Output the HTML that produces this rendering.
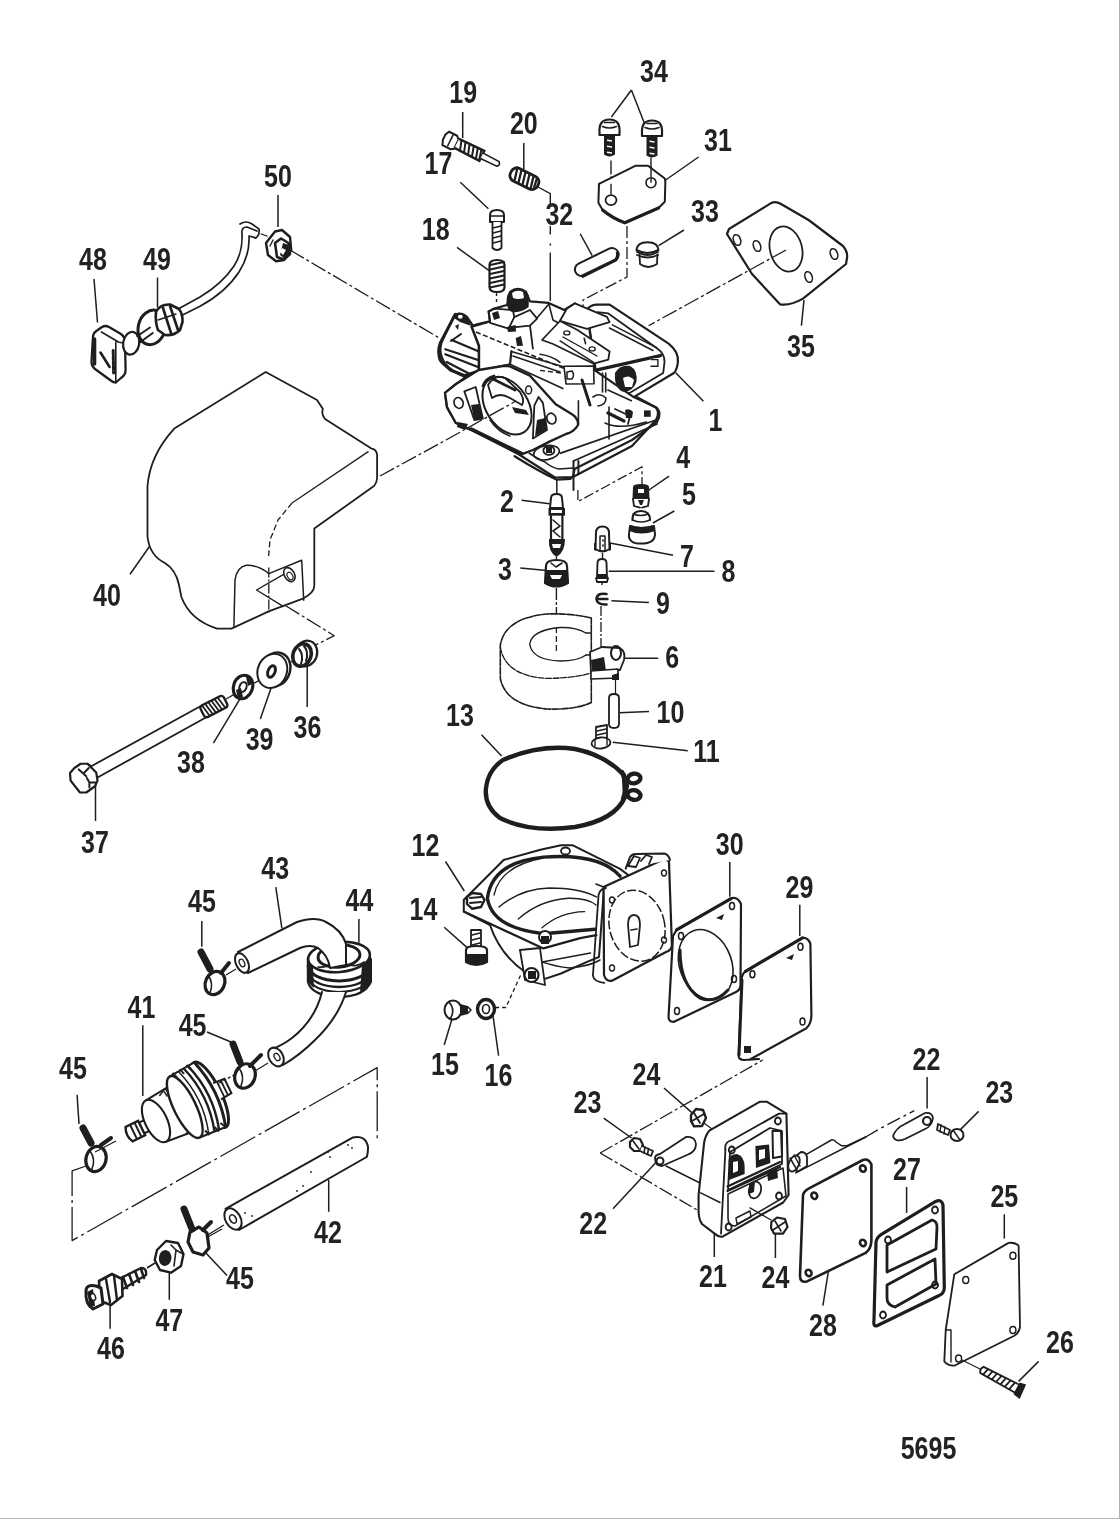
<!DOCTYPE html>
<html><head><meta charset="utf-8"><style>
html,body{margin:0;padding:0;background:#fff;}
svg{display:block;filter:grayscale(1);}
text{font-family:"Liberation Sans",sans-serif;font-weight:bold;fill:#222;}
</style></head><body>
<svg width="1120" height="1519" viewBox="0 0 1120 1519">
<rect x="0" y="0" width="1120" height="1519" fill="#fff"/>
<rect x="1119" y="0" width="1" height="1519" fill="#b0b0b0"/>
<rect x="0" y="1518" width="1120" height="1" fill="#b8b8b8"/>
<line x1="462.7" y1="112" x2="462.7" y2="138" stroke="#1e1e1e" stroke-width="1.5"/>
<line x1="523.8" y1="143" x2="523.8" y2="169.5" stroke="#1e1e1e" stroke-width="1.5"/>
<line x1="460.3" y1="182.3" x2="488.4" y2="208.8" stroke="#1e1e1e" stroke-width="1.5"/>
<line x1="457" y1="247.4" x2="489.2" y2="270.7" stroke="#1e1e1e" stroke-width="1.5"/>
<line x1="278" y1="195" x2="278" y2="227" stroke="#1e1e1e" stroke-width="1.5"/>
<line x1="94" y1="279" x2="97.5" y2="322.5" stroke="#1e1e1e" stroke-width="1.5"/>
<line x1="157.5" y1="277.5" x2="157.5" y2="307.5" stroke="#1e1e1e" stroke-width="1.5"/>
<line x1="631.4" y1="90" x2="611.4" y2="117" stroke="#1e1e1e" stroke-width="1.5"/>
<line x1="631.4" y1="90" x2="644.3" y2="122.9" stroke="#1e1e1e" stroke-width="1.5"/>
<line x1="698.6" y1="157" x2="665.7" y2="180" stroke="#1e1e1e" stroke-width="1.5"/>
<line x1="684" y1="230" x2="658.6" y2="245.7" stroke="#1e1e1e" stroke-width="1.5"/>
<line x1="804" y1="300" x2="801.4" y2="325.7" stroke="#1e1e1e" stroke-width="1.5"/>
<line x1="703.4" y1="401.25" x2="675.7" y2="372.7" stroke="#1e1e1e" stroke-width="1.5"/>
<line x1="669" y1="476.2" x2="647.5" y2="491" stroke="#1e1e1e" stroke-width="1.5"/>
<line x1="674.3" y1="511" x2="652.9" y2="523" stroke="#1e1e1e" stroke-width="1.5"/>
<line x1="521.6" y1="500.3" x2="549.7" y2="503.8" stroke="#1e1e1e" stroke-width="1.5"/>
<line x1="673" y1="555.2" x2="610" y2="543" stroke="#1e1e1e" stroke-width="1.5"/>
<line x1="520.3" y1="568" x2="549.7" y2="570.7" stroke="#1e1e1e" stroke-width="1.5"/>
<line x1="714.5" y1="571.3" x2="608.7" y2="571.3" stroke="#1e1e1e" stroke-width="1.5"/>
<line x1="648.9" y1="602.6" x2="611.4" y2="600.7" stroke="#1e1e1e" stroke-width="1.5"/>
<line x1="658.2" y1="658.3" x2="620.7" y2="658.3" stroke="#1e1e1e" stroke-width="1.5"/>
<line x1="649" y1="711.4" x2="619.5" y2="712.7" stroke="#1e1e1e" stroke-width="1.5"/>
<line x1="687.8" y1="750.7" x2="612.8" y2="742.2" stroke="#1e1e1e" stroke-width="1.5"/>
<line x1="481.5" y1="734.7" x2="501.6" y2="756" stroke="#1e1e1e" stroke-width="1.5"/>
<line x1="130" y1="574.3" x2="150" y2="545.7" stroke="#1e1e1e" stroke-width="1.5"/>
<line x1="95.5" y1="780.7" x2="95.5" y2="821" stroke="#1e1e1e" stroke-width="1.5"/>
<line x1="213.4" y1="743.2" x2="241.5" y2="696.3" stroke="#1e1e1e" stroke-width="1.5"/>
<line x1="260.3" y1="719" x2="271" y2="688.3" stroke="#1e1e1e" stroke-width="1.5"/>
<line x1="307.2" y1="707" x2="307.2" y2="664.2" stroke="#1e1e1e" stroke-width="1.5"/>
<line x1="445.5" y1="861.5" x2="464.3" y2="891" stroke="#1e1e1e" stroke-width="1.5"/>
<line x1="444.2" y1="927.2" x2="468.3" y2="948.6" stroke="#1e1e1e" stroke-width="1.5"/>
<line x1="452.2" y1="1018.2" x2="444.2" y2="1045" stroke="#1e1e1e" stroke-width="1.5"/>
<line x1="492.4" y1="1011.5" x2="498.6" y2="1055.7" stroke="#1e1e1e" stroke-width="1.5"/>
<line x1="729.8" y1="862" x2="729.8" y2="896.8" stroke="#1e1e1e" stroke-width="1.5"/>
<line x1="799.8" y1="904.8" x2="799.8" y2="936" stroke="#1e1e1e" stroke-width="1.5"/>
<line x1="275.8" y1="887.2" x2="281.9" y2="928.3" stroke="#1e1e1e" stroke-width="1.5"/>
<line x1="201.8" y1="921" x2="201.8" y2="946.8" stroke="#1e1e1e" stroke-width="1.5"/>
<line x1="358.9" y1="919" x2="358.9" y2="942.7" stroke="#1e1e1e" stroke-width="1.5"/>
<line x1="207" y1="1032" x2="231.6" y2="1042.3" stroke="#1e1e1e" stroke-width="1.5"/>
<line x1="142.8" y1="1025.3" x2="142.8" y2="1096" stroke="#1e1e1e" stroke-width="1.5"/>
<line x1="77.1" y1="1094.9" x2="79" y2="1124" stroke="#1e1e1e" stroke-width="1.5"/>
<line x1="328.7" y1="1180" x2="328.7" y2="1211.8" stroke="#1e1e1e" stroke-width="1.5"/>
<line x1="227" y1="1275.5" x2="205.7" y2="1252.8" stroke="#1e1e1e" stroke-width="1.5"/>
<line x1="169.3" y1="1269.5" x2="169.3" y2="1299.8" stroke="#1e1e1e" stroke-width="1.5"/>
<line x1="110.1" y1="1302.9" x2="110.1" y2="1328.7" stroke="#1e1e1e" stroke-width="1.5"/>
<line x1="664" y1="1088" x2="693" y2="1113.6" stroke="#1e1e1e" stroke-width="1.5"/>
<line x1="603.7" y1="1118.2" x2="631.5" y2="1138" stroke="#1e1e1e" stroke-width="1.5"/>
<line x1="613" y1="1208.8" x2="659.4" y2="1158.8" stroke="#1e1e1e" stroke-width="1.5"/>
<line x1="714.3" y1="1230.7" x2="714.3" y2="1257" stroke="#1e1e1e" stroke-width="1.5"/>
<line x1="775.4" y1="1234" x2="775.4" y2="1258" stroke="#1e1e1e" stroke-width="1.5"/>
<line x1="927.1" y1="1077" x2="927.1" y2="1108.6" stroke="#1e1e1e" stroke-width="1.5"/>
<line x1="978.6" y1="1111.4" x2="958.6" y2="1131.4" stroke="#1e1e1e" stroke-width="1.5"/>
<line x1="906.6" y1="1187" x2="906.6" y2="1212.9" stroke="#1e1e1e" stroke-width="1.5"/>
<line x1="1004.3" y1="1214.3" x2="1004.3" y2="1238.6" stroke="#1e1e1e" stroke-width="1.5"/>
<line x1="822.9" y1="1305.7" x2="828.6" y2="1270" stroke="#1e1e1e" stroke-width="1.5"/>
<line x1="1038.6" y1="1361.4" x2="1018.6" y2="1381.4" stroke="#1e1e1e" stroke-width="1.5"/>
<path d="M290,250 L441,339" fill="none" stroke="#1e1e1e" stroke-width="1.3" stroke-linejoin="round" stroke-dasharray="16 3 3 3"/>
<path d="M93,337 Q93,333 97,330.5 L102,327 Q105.5,325 109,327 L121,334 Q125,337 125,342 L125.6,370 Q125.6,375 121,378 L117,381.5 Q114.8,383.5 111.5,381 L95,369 Q91.2,366 91.5,361 Z" fill="#fff" stroke="#1e1e1e" stroke-width="2.3" stroke-linejoin="round" stroke-linecap="round" />
<path d="M101.4,332 L118.9,342.2 L125,343.3 M115.8,342.2 L115.8,383" fill="none" stroke="#1e1e1e" stroke-width="1.6" stroke-linejoin="round" stroke-linecap="round" />
<path d="M94.5,339 L94.5,364" fill="none" stroke="#1e1e1e" stroke-width="3.6" stroke-linejoin="round" stroke-linecap="round" />
<path d="M100.5,352.5 L109.6,367" fill="none" stroke="#1e1e1e" stroke-width="2.6" stroke-linejoin="round" stroke-linecap="round" />
<path d="M113.2,350.4 L113.6,373" fill="none" stroke="#1e1e1e" stroke-width="3" stroke-linejoin="round" stroke-linecap="round" stroke-dasharray="4 1.2"/>
<ellipse cx="131.2" cy="343.3" rx="8" ry="11.5" transform="rotate(10 131.2 343.3)" fill="#fff" stroke="#1e1e1e" stroke-width="2.2"/>
<path d="M137.4,336 L151,327 M139,343 L152.8,333" fill="none" stroke="#1e1e1e" stroke-width="2" stroke-linejoin="round" stroke-linecap="round" />
<ellipse cx="151.8" cy="327.4" rx="13.5" ry="17.5" transform="rotate(15 151.8 327.4)" fill="#fff" stroke="#1e1e1e" stroke-width="3"/>
<path d="M139,343 L152.8,333" fill="none" stroke="#1e1e1e" stroke-width="2" stroke-linejoin="round" stroke-linecap="round" />
<path d="M137.4,336 L150,327.5" fill="none" stroke="#1e1e1e" stroke-width="2" stroke-linejoin="round" stroke-linecap="round" />
<path d="M156,312 Q160,304 170,304.5 L179,309 Q183,314 182.5,322 L180,330 Q174,336 165,335 L158,330 Q155,322 156,312 Z" fill="#fff" stroke="#1e1e1e" stroke-width="2.6" stroke-linejoin="round" stroke-linecap="round" />
<path d="M163,308 L171,333 M170,306 L178,330" fill="none" stroke="#1e1e1e" stroke-width="2.6" stroke-linejoin="round" stroke-linecap="round" />
<path d="M158,320 L176,314" fill="none" stroke="#1e1e1e" stroke-width="1.4" stroke-linejoin="round" stroke-linecap="round" />
<path d="M179.5,308.3 L200,297 Q222,284 234,266 Q243,252 242,234 Q241,227 247,227 L257,231" fill="none" stroke="#1e1e1e" stroke-width="1.7" stroke-linejoin="round" stroke-linecap="round" />
<path d="M181.5,315.5 L200,306.3 Q226,292 239,272 Q250,255 249,236 L256,238" fill="none" stroke="#1e1e1e" stroke-width="1.7" stroke-linejoin="round" stroke-linecap="round" />
<path d="M240,224 Q246,220 252,224 L259,229 Q260,236 255,238" fill="none" stroke="#1e1e1e" stroke-width="1.7" stroke-linejoin="round" stroke-linecap="round" />
<path d="M266,243 L275,231.5 L282,230 L290,237 L291.25,250 L284,260 L276,261.25 L268,255 Z" fill="#fff" stroke="#1e1e1e" stroke-width="2.4" stroke-linejoin="round" stroke-linecap="round" />
<path d="M275,243 L281,238.5 L288.5,243 L290,254 L284,259.5 L277,257 Z" fill="#fff" stroke="#1e1e1e" stroke-width="2.6" stroke-linejoin="round" stroke-linecap="round" />
<path d="M283,243 L289,245 L291,254 L285,259 L280,255 Z" fill="#1e1e1e" stroke="none"/>
<path d="M282,248 L286,250 L283,255 L280,252 Z" fill="#fff" stroke="none"/>
<path d="M270,246 L273,240" fill="none" stroke="#1e1e1e" stroke-width="1.4" stroke-linejoin="round" stroke-linecap="round" />
<path d="M260.6,233.75 L267.5,236.25" fill="none" stroke="#1e1e1e" stroke-width="1.3" stroke-linejoin="round" />
<g transform="translate(446,138) rotate(26.5)"><path d="M0,-7 L9,-7 L12,-4 L12,6 L9,8 L0,8 L-2,3 L-2,-3 Z" fill="#fff" stroke="#1e1e1e" stroke-width="2"/><path d="M5,-6 L5,7" stroke="#1e1e1e" stroke-width="1.6"/><path d="M12,-5 L40,-5.5 L40,5.5 L12,5" fill="#fff" stroke="#1e1e1e" stroke-width="2.4"/><path d="M15,-4.5 L18,4.5 M19.5,-4.5 L22.5,4.5 M24,-4.5 L27,4.5 M28.5,-5 L31.5,5 M33,-5 L36,5 M37,-5 L39.5,5" stroke="#1e1e1e" stroke-width="2"/><path d="M40,-3 L58,-2.5 Q61,0 58,2.5 L40,3" fill="#fff" stroke="#1e1e1e" stroke-width="1.6"/></g>
<g transform="translate(511,172) rotate(26.5)"><rect x="0" y="-7" width="30" height="14" rx="6" fill="#fff" stroke="#1e1e1e" stroke-width="2.8"/><path d="M4,-6 L7,6 M8.5,-6.5 L11.5,6.5 M13,-6.5 L16,6.5 M17.5,-6.5 L20.5,6.5 M22,-6.5 L25,6.5 M26,-6 L28,6" stroke="#1e1e1e" stroke-width="2.3"/></g>
<path d="M538,187 L550.3,193.6 L550.3,206" fill="none" stroke="#1e1e1e" stroke-width="1.4" stroke-linejoin="round" />
<path d="M550.3,226 L550.3,234.6" fill="none" stroke="#1e1e1e" stroke-width="1.4" stroke-linejoin="round" />
<path d="M550.3,243.5 L550.3,245.5" fill="none" stroke="#1e1e1e" stroke-width="1.6" stroke-linejoin="round" />
<path d="M550.3,252.5 L550.3,301" fill="none" stroke="#1e1e1e" stroke-width="1.4" stroke-linejoin="round" />
<path d="M490,215 Q490,210 497,210 Q504,210 504,215 L504,222 L490,222 Z" fill="#fff" stroke="#1e1e1e" stroke-width="2" stroke-linejoin="round" stroke-linecap="round" />
<path d="M491,216 L503,216" fill="none" stroke="#1e1e1e" stroke-width="1.5" stroke-linejoin="round" stroke-linecap="round" />
<path d="M492.5,222 L492.5,248 Q497,252 501.5,248 L501.5,222" fill="#fff" stroke="#1e1e1e" stroke-width="1.8" stroke-linejoin="round" stroke-linecap="round" />
<path d="M493,228 L501,226 M493,233 L501,231 M493,238 L501,236 M493,243 L501,241" fill="none" stroke="#1e1e1e" stroke-width="1.4" stroke-linejoin="round" stroke-linecap="round" />
<path d="M489.5,265 Q489.5,260 497,260 Q504.5,260 504.5,265 L504.5,287 Q504.5,292 497,292 Q489.5,292 489.5,287 Z" fill="#fff" stroke="#1e1e1e" stroke-width="2.2" stroke-linejoin="round" stroke-linecap="round" />
<path d="M490,265 L504,262 M490,269.5 L504,266.5 M490,274 L504,271 M490,278.5 L504,275.5 M490,283 L504,280 M490,287.5 L504,284.5" fill="none" stroke="#1e1e1e" stroke-width="2.2" stroke-linejoin="round" stroke-linecap="round" />
<path d="M496.5,293 L496.5,304" fill="none" stroke="#1e1e1e" stroke-width="1.4" stroke-linejoin="round" stroke-dasharray="3 3"/>
<path d="M599.5,132.5 Q598.5,119.5 609.5,119.5 Q620.5,119.5 619.5,132.5 L619.5,135.0 L599.5,135.0 Z" fill="#fff" stroke="#1e1e1e" stroke-width="2.2" stroke-linejoin="round" stroke-linecap="round" />
<path d="M602.5,126.5 Q609.5,129.5 616.5,126.5 M604.5,122.5 L614.5,122.5" fill="none" stroke="#1e1e1e" stroke-width="1.6" stroke-linejoin="round" stroke-linecap="round" />
<path d="M604.0,135.0 L615.0,135.0 L615.0,154.5 Q609.5,158.5 604.0,154.5 Z" fill="#1e1e1e" stroke="none"/>
<path d="M607.0,139.5 L612.0,140.3 L612.0,141.7 L607.0,140.9 Z" fill="#fff" stroke="none"/>
<path d="M607.0,145.5 L612.0,146.3 L612.0,147.7 L607.0,146.9 Z" fill="#fff" stroke="none"/>
<path d="M607.0,151.5 L612.0,152.3 L612.0,153.7 L607.0,152.9 Z" fill="#fff" stroke="none"/>
<path d="M642,133.5 Q641,120.5 652,120.5 Q663,120.5 662,133.5 L662,136.0 L642,136.0 Z" fill="#fff" stroke="#1e1e1e" stroke-width="2.2" stroke-linejoin="round" stroke-linecap="round" />
<path d="M645,127.5 Q652,130.5 659,127.5 M647,123.5 L657,123.5" fill="none" stroke="#1e1e1e" stroke-width="1.6" stroke-linejoin="round" stroke-linecap="round" />
<path d="M646.5,136.0 L657.5,136.0 L657.5,155.5 Q652,159.5 646.5,155.5 Z" fill="#1e1e1e" stroke="none"/>
<path d="M649.5,140.5 L654.5,141.3 L654.5,142.7 L649.5,141.9 Z" fill="#fff" stroke="none"/>
<path d="M649.5,146.5 L654.5,147.3 L654.5,148.7 L649.5,147.9 Z" fill="#fff" stroke="none"/>
<path d="M649.5,152.5 L654.5,153.3 L654.5,154.7 L649.5,153.9 Z" fill="#fff" stroke="none"/>
<path d="M611,160.6 L611,194.3" fill="none" stroke="#1e1e1e" stroke-width="1.4" stroke-linejoin="round" stroke-dasharray="14 2 3 2"/>
<path d="M651,157.4 L651,182.7" fill="none" stroke="#1e1e1e" stroke-width="1.4" stroke-linejoin="round" />
<path d="M599,183.8 L635.3,165.8 L648,165.8 L664.8,178.5 Q665.5,181 665.3,183.8 L664.8,201.7 L658.5,208 L624.8,222.8 Q612,218 602.6,210 L598.4,202.7 Z" fill="#fff" stroke="#1e1e1e" stroke-width="2" stroke-linejoin="round" stroke-linecap="round" />
<path d="M602.6,210 Q612,218 624.8,222.8 L658.5,208" fill="none" stroke="#1e1e1e" stroke-width="3.2" stroke-linejoin="round" stroke-linecap="round" />
<ellipse cx="611" cy="200.1" rx="5.5" ry="5" transform="rotate(0 611 200.1)" fill="none" stroke="#1e1e1e" stroke-width="1.8"/>
<ellipse cx="651" cy="182.7" rx="5" ry="5" transform="rotate(0 651 182.7)" fill="none" stroke="#1e1e1e" stroke-width="1.6"/>
<path d="M611,183.8 L611,194.3" fill="none" stroke="#1e1e1e" stroke-width="1.4" stroke-linejoin="round" />
<path d="M651,166 L651,182.7" fill="none" stroke="#1e1e1e" stroke-width="1.4" stroke-linejoin="round" />
<path d="M627,226 L627,277 L583,300 L583,318" fill="none" stroke="#1e1e1e" stroke-width="1.3" stroke-linejoin="round" stroke-dasharray="12 3 3 3"/>
<g transform="translate(596.7,262) rotate(-26)"><rect x="-23.5" y="-6.5" width="47" height="13" rx="6.5" fill="#fff" stroke="#1e1e1e" stroke-width="2"/><path d="M-20,6.5 L18,6.5 Q22,5 23,0" fill="none" stroke="#1e1e1e" stroke-width="3.4"/></g>
<line x1="580.2" y1="233.75" x2="592.2" y2="255.6" stroke="#1e1e1e" stroke-width="1.5"/>
<path d="M636.4,250 Q637,242.2 647.5,242.2 Q658,242.2 658.5,250 Q647.5,256 636.4,250 Z" fill="#fff" stroke="#1e1e1e" stroke-width="2" stroke-linejoin="round" stroke-linecap="round" />
<path d="M639.5,254.4 L640,264 Q648,270 657,264 L657.4,254.4" fill="#fff" stroke="#1e1e1e" stroke-width="1.8" stroke-linejoin="round" stroke-linecap="round" />
<path d="M637,252 Q647.5,258 658,252 M637,255 Q647.5,260 658,255" fill="none" stroke="#1e1e1e" stroke-width="1.8" stroke-linejoin="round" stroke-linecap="round" />
<path d="M727,234 L729,229 L771.4,202.9 Q776,201 781,204 L808.6,220 L843,246 Q848,252 847,258 L846,264 L803,298.6 Q790,306 780,304.3 L752,274 Z" fill="#fff" stroke="#1e1e1e" stroke-width="2.2" stroke-linejoin="round" stroke-linecap="round" />
<ellipse cx="786" cy="249" rx="16" ry="23" transform="rotate(-15 786 249)" fill="none" stroke="#1e1e1e" stroke-width="1.8"/>
<ellipse cx="737" cy="240" rx="3.5" ry="5.5" transform="rotate(-20 737 240)" fill="none" stroke="#1e1e1e" stroke-width="1.6"/>
<ellipse cx="757" cy="246" rx="3.5" ry="5.5" transform="rotate(-20 757 246)" fill="none" stroke="#1e1e1e" stroke-width="1.6"/>
<ellipse cx="834" cy="254" rx="3.5" ry="5.5" transform="rotate(-20 834 254)" fill="none" stroke="#1e1e1e" stroke-width="1.6"/>
<ellipse cx="808.6" cy="277" rx="3.5" ry="5.5" transform="rotate(-20 808.6 277)" fill="none" stroke="#1e1e1e" stroke-width="1.6"/>
<path d="M786,250 L648.6,325.7" fill="none" stroke="#1e1e1e" stroke-width="1.3" stroke-linejoin="round" stroke-dasharray="16 3 3 3"/>
<path d="M380,476 L446,440" fill="none" stroke="#1e1e1e" stroke-width="1.3" stroke-linejoin="round" stroke-dasharray="16 3 3 3"/>
<path d="M586.9,310.1 Q590,305 596.2,304.7 L609.6,304.7 L668.6,343.6 Q679,352 677.9,362 Q677,370 673.9,373 L633.7,397.1 L600,400 Z" fill="#fff" stroke="#1e1e1e" stroke-width="2.2" stroke-linejoin="round" stroke-linecap="round" />
<path d="M597.6,312.1 L608.3,313.4 L657.9,348.9 Q665,354 664.5,362 L663.2,373 L627,394.5" fill="none" stroke="#1e1e1e" stroke-width="1.8" stroke-linejoin="round" stroke-linecap="round" />
<path d="M594.9,370.4 L660.5,355.6" fill="none" stroke="#1e1e1e" stroke-width="3.4" stroke-linejoin="round" stroke-linecap="round" />
<path d="M612.3,324.8 L656.5,347.6 M609.5,328 L653,350.5" fill="none" stroke="#1e1e1e" stroke-width="1.5" stroke-linejoin="round" stroke-linecap="round" />
<path d="M650,359 L658,358 L658,366 L651,366 Z" fill="#fff" stroke="none"/>
<path d="M651,359.6 L657.9,359.6 L657.9,366.3 L651,366.3" fill="none" stroke="#1e1e1e" stroke-width="1.4" stroke-linejoin="round" stroke-linecap="round" />
<path d="M445.7,364.3 Q438,354 441.4,342.9 L451.4,321.4 L454.3,315.7 Q460,311 467.1,317.1 L472.9,325.7 L477.1,324.3 L490,321.4 L488.6,311.4 L494.3,308.6 L507,305 L510,292 Q518,286 526,292 L530,301.4 L548.6,302.9 L564.3,310 L574.8,303.4 L586.9,310.1 L594.9,370.4 L633.7,397.1 L656,407.5 Q660,413 656,420 L632,446 L572.9,477 L555,477.5 L518.6,454.3 L471.4,430 Q455,425 447,407 L445,392.9 L455.7,384.3 L465.7,377.1 Q452,372 445.7,364.3 Z" fill="#fff" stroke="#1e1e1e" stroke-width="2.2" stroke-linejoin="round" stroke-linecap="round" />
<path d="M455.3,314.3 L440.3,342.9 Q438,350 438.9,353.6 Q439,360 442.4,362.9 L450.3,370 L464.6,375.7 L477.4,371.4" fill="none" stroke="#1e1e1e" stroke-width="3.0" stroke-linejoin="round" stroke-linecap="round" />
<path d="M471.7,327.1 L478.9,345.7 L478.9,370.7" fill="none" stroke="#1e1e1e" stroke-width="2.6" stroke-linejoin="round" stroke-linecap="round" />
<path d="M451.7,340 L478.9,351.4 M445.3,349.3 L478.1,360 M445.3,354.3 L478,367 M446.7,362 L470.3,374.3" fill="none" stroke="#1e1e1e" stroke-width="2.2" stroke-linejoin="round" stroke-linecap="round" />
<path d="M451,341 L461,334" fill="none" stroke="#1e1e1e" stroke-width="2" stroke-linejoin="round" stroke-linecap="round" />
<path d="M454,318 Q455,312 461,313 Q467,314 468,319 L471.5,326 L460,322 Z" fill="#1e1e1e" stroke="none"/>
<ellipse cx="460.3" cy="316.8" rx="2.4" ry="2" transform="rotate(0 460.3 316.8)" fill="#fff" stroke="#1e1e1e" stroke-width="0"/>
<path d="M455,326 L459,324 L458,330 Z" fill="#1e1e1e" stroke="none"/>
<path d="M471.7,326.5 L487.4,322.1" fill="none" stroke="#1e1e1e" stroke-width="2.4" stroke-linejoin="round" stroke-linecap="round" />
<path d="M511.4,351.4 L510,364.3 L478.6,371.4" fill="none" stroke="#1e1e1e" stroke-width="2.2" stroke-linejoin="round" stroke-linecap="round" />
<path d="M476,332 L564.3,368.6" fill="none" stroke="#1e1e1e" stroke-width="1.6" stroke-linejoin="round" stroke-dasharray="5 2.5"/>
<path d="M488.6,311.4 L494.3,308.6 L512.9,310 L514.3,317.1 L508.6,328.6 L490,322.9 Z" fill="none" stroke="#1e1e1e" stroke-width="1.8" stroke-linejoin="round" stroke-linecap="round" />
<path d="M514.3,317.1 L530,310 L537.1,318.6 L530,325.7 L515.7,327.1" fill="none" stroke="#1e1e1e" stroke-width="1.8" stroke-linejoin="round" stroke-linecap="round" />
<path d="M530,325.7 L532.9,348.6" fill="none" stroke="#1e1e1e" stroke-width="1.8" stroke-linejoin="round" stroke-linecap="round" />
<path d="M511.4,351.4 L564.3,367 M513,356 L560,372" fill="none" stroke="#1e1e1e" stroke-width="1.6" stroke-linejoin="round" stroke-linecap="round" />
<path d="M537,318 L548,305 M548.6,302.9 L553,320 L564,326" fill="none" stroke="#1e1e1e" stroke-width="1.6" stroke-linejoin="round" stroke-linecap="round" />
<path d="M507,303 Q505,292 515,289 Q525,287 529,296 L528.6,307 Q522,313 512,312 Q507,310 507,303 Z" fill="#1e1e1e" stroke="none"/>
<path d="M512,293 Q517,289 523,292 L524,298 Q518,300 513,298 Z" fill="#fff" stroke="none"/>
<path d="M492,313 L498,311 L500,318 L494,320 Z" fill="#1e1e1e" stroke="none"/>
<path d="M507,327 L515.7,325 L516,331.4 L508,332 Z" fill="#1e1e1e" stroke="none"/>
<path d="M515.7,338 L521,336 L523,345.7 L517,346 Z" fill="#1e1e1e" stroke="none"/>
<path d="M560,320.8 L566.8,308.7 L574.8,303.4 L607,316.8 L609.6,322.1 L586.9,328.8 Z" fill="#fff" stroke="#1e1e1e" stroke-width="1.8" stroke-linejoin="round" stroke-linecap="round" />
<path d="M542,340 L560,321 L577.5,330 L609.6,351.6 L608.3,359.6 L593.6,363.7 L553,344 Z" fill="#fff" stroke="#1e1e1e" stroke-width="1.8" stroke-linejoin="round" stroke-linecap="round" />
<path d="M560,340.9 L593.6,362.3 M563,337 L597,356" fill="none" stroke="#1e1e1e" stroke-width="1.4" stroke-linejoin="round" stroke-linecap="round" />
<ellipse cx="566.8" cy="332.9" rx="3" ry="2" transform="rotate(0 566.8 332.9)" fill="none" stroke="#1e1e1e" stroke-width="1.4"/>
<ellipse cx="592.2" cy="348.9" rx="3" ry="2" transform="rotate(0 592.2 348.9)" fill="none" stroke="#1e1e1e" stroke-width="1.4"/>
<path d="M584.2,338.2 L585.5,343.6" fill="none" stroke="#1e1e1e" stroke-width="1.6" stroke-linejoin="round" stroke-linecap="round" />
<path d="M540,354.3 Q552,356 560,362.3" fill="none" stroke="#1e1e1e" stroke-width="1.6" stroke-linejoin="round" stroke-linecap="round" />
<path d="M540,370.4 L561.4,373" fill="none" stroke="#1e1e1e" stroke-width="1.4" stroke-linejoin="round" stroke-dasharray="5 3"/>
<path d="M564,366.3 L593.6,366 L594,383.7 L566,384 Z" fill="none" stroke="#1e1e1e" stroke-width="1.6" stroke-linejoin="round" stroke-linecap="round" />
<path d="M567,372 L572,371 Q575,375 572,379 L567,379 Z" fill="none" stroke="#1e1e1e" stroke-width="1.5" stroke-linejoin="round" stroke-linecap="round" />
<path d="M615,373 Q620,364 630,366 Q638,370 636.4,382 Q633,392 623,391.8 Q614,388 615,373 Z" fill="#1e1e1e" stroke="none"/>
<path d="M623,378 Q629,374 634,380 L632,387 L625,387 Z" fill="#fff" stroke="none"/>
<path d="M514.6,456.2 Q540,472 556.8,479.7 L570.5,478.8 Q574,476 574.5,469 L632,440 L657,422 Q662,414 657,408 L635.7,396.4" fill="none" stroke="#1e1e1e" stroke-width="2.2" stroke-linejoin="round" stroke-linecap="round" />
<path d="M529.3,453.2 Q540,460 545,462 Q552,468 558.8,469 L573.5,468" fill="none" stroke="#1e1e1e" stroke-width="1.6" stroke-linejoin="round" stroke-linecap="round" />
<ellipse cx="546.5" cy="452.7" rx="13" ry="7" transform="rotate(-10 546.5 452.7)" fill="none" stroke="#1e1e1e" stroke-width="1.6"/>
<path d="M560.7,453.2 L656,420 M573.5,461 L657,424" fill="none" stroke="#1e1e1e" stroke-width="1.8" stroke-linejoin="round" stroke-linecap="round" />
<path d="M609,407 L609,439 M578.4,400.7 L578.4,424.3" fill="none" stroke="#1e1e1e" stroke-width="1.6" stroke-linejoin="round" stroke-linecap="round" />
<path d="M605,423 Q620,430 646.4,422" fill="none" stroke="#1e1e1e" stroke-width="1.5" stroke-linejoin="round" stroke-linecap="round" />
<path d="M573.5,461 L573.5,490 M578.4,461 L578.4,474" fill="none" stroke="#1e1e1e" stroke-width="2.0" stroke-linejoin="round" stroke-linecap="round" />
<path d="M644,410.4 L650.7,410.4 L650.7,416.8 L644,416.8 Z" fill="#1e1e1e" stroke="none"/>
<path d="M608,413 L624,421" fill="none" stroke="#1e1e1e" stroke-width="3.2" stroke-linejoin="round" stroke-linecap="round" />
<path d="M615,409 L630,416 L628,424" fill="none" stroke="#1e1e1e" stroke-width="1.8" stroke-linejoin="round" stroke-linecap="round" />
<path d="M625,410 Q630,408 633,412 L632,418 L626,418 Z" fill="#1e1e1e" stroke="none"/>
<path d="M602.5,373 L602.5,392 M605.7,373 L605.7,392" fill="none" stroke="#1e1e1e" stroke-width="1.6" stroke-linejoin="round" stroke-linecap="round" />
<path d="M607.9,390 L631.4,400.7" fill="none" stroke="#1e1e1e" stroke-width="1.6" stroke-linejoin="round" stroke-linecap="round" />
<path d="M593,397 Q600,392 606,398 Q606,405 598,406" fill="none" stroke="#1e1e1e" stroke-width="1.6" stroke-linejoin="round" stroke-linecap="round" />
<path d="M582,380 L590,405" fill="none" stroke="#1e1e1e" stroke-width="3.0" stroke-linejoin="round" stroke-linecap="round" />
<ellipse cx="548.9" cy="450.4" rx="5.5" ry="4.5" transform="rotate(0 548.9 450.4)" fill="none" stroke="#1e1e1e" stroke-width="1.8"/>
<path d="M546,447 L552,447 L552,453 L546,453 Z" fill="#1e1e1e" stroke="none"/>
<path d="M445,392.9 L455.7,384.3 L478.6,370 L504.3,365.7 L510,366.4 L530,375.7 L555.7,404.3 L570,413 Q579,418 578,425 Q574,432 566,434 L550,441.4 L532.9,450 L521.4,454.3 L471.4,430 L455.7,422.9 L447,407 Z" fill="#fff" stroke="#1e1e1e" stroke-width="2.4" stroke-linejoin="round" stroke-linecap="round" />
<path d="M471.4,429 L521.4,453.3" fill="none" stroke="#1e1e1e" stroke-width="3.2" stroke-linejoin="round" stroke-linecap="round" />
<path d="M510,364.3 L562.9,388.6" fill="none" stroke="#1e1e1e" stroke-width="1.6" stroke-linejoin="round" stroke-linecap="round" />
<ellipse cx="507" cy="405.7" rx="21" ry="31.5" transform="rotate(-33 507 405.7)" fill="none" stroke="#1e1e1e" stroke-width="2.0"/>
<path d="M488,385 Q495,374 505,378 L520,392 Q525,400 522,405 L510,398 Q500,392 492,398 Z" fill="none" stroke="#1e1e1e" stroke-width="1.8" stroke-linejoin="round" stroke-linecap="round" />
<path d="M491,378 L515,390 M483,386 Q486,378 494,376" fill="none" stroke="#1e1e1e" stroke-width="2.8" stroke-linejoin="round" stroke-linecap="round" />
<path d="M512,407 L526,410 L529,415 L515,413 Z" fill="#1e1e1e" stroke="none"/>
<path d="M490,420 Q498,432 510,436" fill="none" stroke="#1e1e1e" stroke-width="1.4" stroke-linejoin="round" stroke-linecap="round" />
<path d="M464.3,391.4 L475.7,387 L482.9,418.6 L474.3,420 Z" fill="none" stroke="#1e1e1e" stroke-width="1.8" stroke-linejoin="round" stroke-linecap="round" />
<path d="M471,405 L479,404 L482.9,418.6 L474.3,420 Z" fill="#1e1e1e" stroke="none"/>
<path d="M538.6,397 L542.9,402.9 L547,430 L532.9,438.6 L534.3,405.7 Z" fill="none" stroke="#1e1e1e" stroke-width="1.8" stroke-linejoin="round" stroke-linecap="round" />
<path d="M537,420 L545,418 L547,430 L535,436 Z" fill="#1e1e1e" stroke="none"/>
<ellipse cx="458.6" cy="402.9" rx="4.5" ry="5.5" transform="rotate(-20 458.6 402.9)" fill="none" stroke="#1e1e1e" stroke-width="1.7"/>
<ellipse cx="528.6" cy="390" rx="3" ry="4" transform="rotate(0 528.6 390)" fill="none" stroke="#1e1e1e" stroke-width="1.5"/>
<ellipse cx="551.4" cy="418.6" rx="4.5" ry="5.5" transform="rotate(-20 551.4 418.6)" fill="none" stroke="#1e1e1e" stroke-width="1.7"/>
<path d="M458,422 L468,424 L465,430 L457,427 Z" fill="#1e1e1e" stroke="none"/>
<path d="M446,440 L516,401" fill="none" stroke="#1e1e1e" stroke-width="1.3" stroke-linejoin="round" stroke-dasharray="16 3 3 3"/>
<path d="M265.7,372 L174.3,428.6 Q150,455 147.5,486 L147.5,537 Q150,556 165,563 Q176,570 179,585 L181.4,597 Q190,620 217,628.6 L231.4,628.6 L268.6,611.4 L302.9,598.6 Q314,593 314.3,586 L314.3,528.6 L374.3,485.7 Q377,482 377.1,478 L377.1,454.3 Q376,449 371.4,448.6 L325,419 Q321,414 322.9,409 L317,400 Z" fill="#fff" stroke="#1e1e1e" stroke-width="1.8" stroke-linejoin="round" stroke-linecap="round" />
<path d="M368.6,451.4 L292,503" fill="none" stroke="#1e1e1e" stroke-width="1.3" stroke-linejoin="round" />
<path d="M292,503 L278,520 L270,540 L268.6,556" fill="none" stroke="#1e1e1e" stroke-width="1.3" stroke-linejoin="round" stroke-dasharray="6 3"/>
<path d="M268.8,567.4 L268.8,612.6" fill="none" stroke="#1e1e1e" stroke-width="1.3" stroke-linejoin="round" stroke-dasharray="10 2 2 2"/>
<path d="M233.9,627 L235,580 Q237,567 246.2,565.3 Q258,565 268.8,573.6 L301.7,560.2 L303.7,600.2" fill="none" stroke="#1e1e1e" stroke-width="1.5" stroke-linejoin="round" stroke-linecap="round" />
<path d="M283.2,574.6 L256.5,590 L283.2,606.4" fill="none" stroke="#1e1e1e" stroke-width="1.4" stroke-linejoin="round" stroke-linecap="round" />
<ellipse cx="289.4" cy="574.6" rx="5" ry="7.5" transform="rotate(-30 289.4 574.6)" fill="none" stroke="#1e1e1e" stroke-width="1.6"/>
<ellipse cx="290" cy="576" rx="2.5" ry="4" transform="rotate(-30 290 576)" fill="none" stroke="#1e1e1e" stroke-width="1.2"/>
<path d="M285.7,605.7 L334.3,635.7 L314.3,645.7" fill="none" stroke="#1e1e1e" stroke-width="1.3" stroke-linejoin="round" stroke-dasharray="16 3 3 3"/>
<path d="M91.25,766.25 L201.3,705.7 M97.5,777.5 L205.4,717.8" fill="none" stroke="#1e1e1e" stroke-width="1.8" stroke-linejoin="round" stroke-linecap="round" />
<g transform="translate(213,707) rotate(-27)"><rect x="-12" y="-6.5" width="26" height="13" rx="3" fill="#fff" stroke="#1e1e1e" stroke-width="2.4"/><path d="M-9,-6 L-7,6 M-5.5,-6 L-3.5,6 M-2,-6 L0,6 M1.5,-6 L3.5,6 M5,-6 L7,6 M8.5,-6 L10.5,6" stroke="#1e1e1e" stroke-width="1.8"/></g>
<path d="M80.6,763.75 L87.5,763.75 L96.25,772.5 L97.5,780.6 L95,786.25 L86.25,792.5 L80,792.5 L70.6,780.6 L70,773 L74.4,768 Z" fill="#fff" stroke="#1e1e1e" stroke-width="2.2" stroke-linejoin="round" stroke-linecap="round" />
<path d="M78.75,769.4 L86.25,776.25 M88.75,768 L84.4,772.5 M86.9,778 L89.4,782.5 L96,782.5 M89.4,782.5 L89.4,787.5 M87.5,763.75 L91.25,766.25" fill="none" stroke="#1e1e1e" stroke-width="2" stroke-linejoin="round" stroke-linecap="round" />
<path d="M226,699 L304,655" fill="none" stroke="#1e1e1e" stroke-width="1.3" stroke-linejoin="round" stroke-dasharray="16 3 3 3"/>
<ellipse cx="243" cy="687" rx="9.5" ry="12" transform="rotate(20 243 687)" fill="#fff" stroke="#1e1e1e" stroke-width="3.2"/>
<ellipse cx="243" cy="687" rx="3.5" ry="5" transform="rotate(20 243 687)" fill="none" stroke="#1e1e1e" stroke-width="2"/>
<path d="M236,690 L241,688 L243,697 L238,698 Z" fill="#1e1e1e" stroke="none"/>
<path d="M246,677 L250,676 L252,684 L248,686 Z" fill="#1e1e1e" stroke="none"/>
<ellipse cx="275.5" cy="669.5" rx="14.5" ry="17.5" transform="rotate(22 275.5 669.5)" fill="#fff" stroke="#1e1e1e" stroke-width="2.4"/>
<ellipse cx="272.3" cy="670.9" rx="14.5" ry="17.5" transform="rotate(22 272.3 670.9)" fill="#fff" stroke="#1e1e1e" stroke-width="2"/>
<ellipse cx="271.5" cy="671.5" rx="3.5" ry="6" transform="rotate(22 271.5 671.5)" fill="none" stroke="#1e1e1e" stroke-width="3"/>
<ellipse cx="306" cy="653.5" rx="11" ry="13" transform="rotate(20 306 653.5)" fill="#fff" stroke="#1e1e1e" stroke-width="2.2"/>
<ellipse cx="302" cy="655" rx="9" ry="11.5" transform="rotate(20 302 655)" fill="#fff" stroke="#1e1e1e" stroke-width="3.6"/>
<path d="M299,649 Q304,655 301,664 M304,646 Q309,652 306,661" fill="none" stroke="#1e1e1e" stroke-width="2" stroke-linejoin="round" stroke-linecap="round" />
<path d="M556.8,479.7 L556.8,494" fill="none" stroke="#1e1e1e" stroke-width="1.5" stroke-linejoin="round" />
<path d="M551,498 Q551,494 556.5,494 Q562,494 562,498 L563,508 L550,508 Z" fill="#fff" stroke="#1e1e1e" stroke-width="2" stroke-linejoin="round" stroke-linecap="round" />
<path d="M548.5,508 L565,508 L565,515.7 L548.5,515.7 Z" fill="#1e1e1e" stroke="none"/>
<path d="M551,510 L562,510 L562,513 L551,513 Z" fill="#fff" stroke="none"/>
<path d="M551,515.7 L551,540 M562.4,515.7 L562.4,540" fill="none" stroke="#1e1e1e" stroke-width="2.2" stroke-linejoin="round" stroke-linecap="round" />
<path d="M553,520 L560,526 L553,531 L560,537" fill="none" stroke="#1e1e1e" stroke-width="1.6" stroke-linejoin="round" stroke-linecap="round" />
<path d="M549,539 L565,539 Q565,552 556.5,557 Q548,552 549,539 Z" fill="#1e1e1e" stroke="none"/>
<path d="M552,544 L561,544 L560,548 L553,548 Z" fill="#fff" stroke="none"/>
<path d="M556.4,557 L556.4,561" fill="none" stroke="#1e1e1e" stroke-width="1.4" stroke-linejoin="round" />
<path d="M546,566 Q546,560 556.5,560 Q567,560 567,566 L568,583 Q556,590 545,583 Z" fill="#fff" stroke="#1e1e1e" stroke-width="2.2" stroke-linejoin="round" stroke-linecap="round" />
<path d="M545.5,570 L567.5,570 L568,583 Q556,590 545,583 Z" fill="#1e1e1e" stroke="none"/>
<path d="M550,575 L562,575 L560,579 L552,579 Z" fill="#fff" stroke="none"/>
<path d="M551,563 L556,567 L562,563" fill="none" stroke="#1e1e1e" stroke-width="1.6" stroke-linejoin="round" stroke-linecap="round" />
<path d="M556.4,588 L556.4,650" fill="none" stroke="#1e1e1e" stroke-width="1.4" stroke-linejoin="round" stroke-dasharray="12 2 3 2"/>
<path d="M577.9,490 L577.9,501.6 L642,466.8 L642,486" fill="none" stroke="#1e1e1e" stroke-width="1.3" stroke-linejoin="round" stroke-dasharray="10 3 3 3"/>
<path d="M633,487 Q633,484 641,484 Q649,484 649,487 L649.5,499 L632.5,499 Z" fill="#1e1e1e" stroke="none"/>
<path d="M638,489 L644,489 L644,493 L638,493 Z" fill="#fff" stroke="none"/>
<path d="M633,499 L634,506 L640,507.6 M649,499 L648,506 L642,507.6" fill="none" stroke="#1e1e1e" stroke-width="1.8" stroke-linejoin="round" stroke-linecap="round" />
<path d="M638,500 L644,500 L642,505 L640,505 Z" fill="#1e1e1e" stroke="none"/>
<path d="M632.5,520 Q632,511 641,511 Q650,511 650,520" fill="#fff" stroke="#1e1e1e" stroke-width="2" stroke-linejoin="round" stroke-linecap="round" />
<path d="M629,534 Q628,543.6 641,543.6 Q655,543.6 655,534 L654,526 Q641,530 630,526 Z" fill="#fff" stroke="#1e1e1e" stroke-width="2" stroke-linejoin="round" stroke-linecap="round" />
<path d="M630,525 Q641,529 654,525 L655,531 Q641,536 629.5,531 Z" fill="#1e1e1e" stroke="none"/>
<path d="M632.5,520 Q641,524 650,520" fill="none" stroke="#1e1e1e" stroke-width="1.6" stroke-linejoin="round" stroke-linecap="round" />
<path d="M633,514 Q641,517 648,514" fill="none" stroke="#1e1e1e" stroke-width="1.4" stroke-linejoin="round" stroke-linecap="round" />
<path d="M596,533 Q596,526.5 602.5,526.5 Q609,526.5 609,533 L609.5,549 Q602.5,554 595.5,549 Z" fill="#fff" stroke="#1e1e1e" stroke-width="2" stroke-linejoin="round" stroke-linecap="round" />
<path d="M600,536 L600,551 L605,551 L605,536 Z" fill="none" stroke="#1e1e1e" stroke-width="1.5" stroke-linejoin="round" stroke-linecap="round" />
<path d="M603,540 L603,541 M603,545 L603,546" fill="none" stroke="#1e1e1e" stroke-width="1.6" stroke-linejoin="round" stroke-linecap="round" />
<path d="M594,543 L596,543 L596,551 L594,550 Z" fill="#1e1e1e" stroke="none"/>
<path d="M609,543 L611,543 L611,550 L609,551 Z" fill="#1e1e1e" stroke="none"/>
<path d="M602.5,553 L602.5,559" fill="none" stroke="#1e1e1e" stroke-width="1.4" stroke-linejoin="round" />
<path d="M597.5,563 Q597.5,559 602,559 Q606.5,559 606.5,563 L607,578 L597,578 Z" fill="#fff" stroke="#1e1e1e" stroke-width="1.9" stroke-linejoin="round" stroke-linecap="round" />
<path d="M596,578 L608,578 L607,582 L597,582 Z" fill="#fff" stroke="#1e1e1e" stroke-width="1.8" stroke-linejoin="round" stroke-linecap="round" />
<path d="M598,574 L606,574 L606,578 L598,578 Z" fill="#1e1e1e" stroke="none"/>
<path d="M602,582 L602,585" fill="none" stroke="#1e1e1e" stroke-width="1.4" stroke-linejoin="round" />
<path d="M606.5,594 Q597,592.5 596.5,599 Q597,605 606.5,604.5" fill="none" stroke="#1e1e1e" stroke-width="2.6" stroke-linejoin="round" stroke-linecap="round" />
<path d="M598,599 L607.5,599" fill="none" stroke="#1e1e1e" stroke-width="2.4" stroke-linejoin="round" stroke-linecap="round" />
<path d="M601,606 L601,652" fill="none" stroke="#1e1e1e" stroke-width="1.3" stroke-linejoin="round" stroke-dasharray="10 2 2 2"/>
<path d="M591.3,618 Q570,613 547,614 Q505,618 500.3,645 L500.3,678 Q505,705 547,709 Q575,710 591.3,702.5 Z" fill="#fff" stroke="#1e1e1e" stroke-width="1.6" stroke-linejoin="round" stroke-linecap="round" stroke-dasharray="7 1.5"/>
<path d="M500.3,647 Q505,676 547,678.4 Q575,678 591.3,673" fill="none" stroke="#1e1e1e" stroke-width="1.3" stroke-linejoin="round" stroke-linecap="round" stroke-dasharray="6 1.5"/>
<path d="M586,633 Q576,627 560,627.5 Q532,630 529.7,644 Q532,660 560,661 Q578,661 586,655" fill="none" stroke="#1e1e1e" stroke-width="1.4" stroke-linejoin="round" stroke-linecap="round" />
<path d="M586,633 L591,633 M586,655 L591,655" fill="none" stroke="#1e1e1e" stroke-width="1.4" stroke-linejoin="round" stroke-linecap="round" />
<path d="M556.4,627 L556.4,654" fill="none" stroke="#1e1e1e" stroke-width="1.3" stroke-linejoin="round" stroke-dasharray="6 3"/>
<path d="M590,652 L602,647 L620,648 Q626,652 624,660 L620,670 L591,673 Z" fill="#fff" stroke="#1e1e1e" stroke-width="1.8" stroke-linejoin="round" stroke-linecap="round" />
<path d="M591,660 L604,657 L606,671 L592,673 Z" fill="#1e1e1e" stroke="none"/>
<ellipse cx="616" cy="653" rx="5" ry="7" transform="rotate(0 616 653)" fill="none" stroke="#1e1e1e" stroke-width="2"/>
<path d="M591,671 L618,669 L618,678 L591,679 Z" fill="#fff" stroke="#1e1e1e" stroke-width="1.6" stroke-linejoin="round" stroke-linecap="round" />
<path d="M612,675 L619,673 L619,680 L612,680 Z" fill="#1e1e1e" stroke="none"/>
<path d="M615.5,680 L615.5,696" fill="none" stroke="#1e1e1e" stroke-width="1.2" stroke-linejoin="round" />
<path d="M609,698 Q609,694 614,694 Q619,694 619,698 L619,724 Q619,728 614,728 Q609,728 609,724 Z" fill="#fff" stroke="#1e1e1e" stroke-width="1.8" stroke-linejoin="round" stroke-linecap="round" />
<path d="M596,727 L607,725 L607,738 L596,739 Z" fill="#fff" stroke="#1e1e1e" stroke-width="1.8" stroke-linejoin="round" stroke-linecap="round" />
<path d="M597,731 L606,729 M597,735 L606,733" fill="none" stroke="#1e1e1e" stroke-width="1.4" stroke-linejoin="round" stroke-linecap="round" />
<ellipse cx="601" cy="743" rx="9.5" ry="5.5" transform="rotate(-5 601 743)" fill="#fff" stroke="#1e1e1e" stroke-width="1.8"/>
<path d="M595,740 L595,746 M607,739 L607,745" fill="none" stroke="#1e1e1e" stroke-width="1.4" stroke-linejoin="round" stroke-linecap="round" />
<path d="M503,760 Q540,744 575,749 Q605,755 624,775 L625,797 Q615,820 575,827 Q530,833 500,818 Q484,806 486,788 Q488,770 503,760 Z" fill="none" stroke="#1e1e1e" stroke-width="4.4" stroke-linejoin="round" stroke-linecap="round" />
<ellipse cx="634" cy="778.5" rx="6.5" ry="4.8" transform="rotate(-10 634 778.5)" fill="#fff" stroke="#1e1e1e" stroke-width="4.4"/>
<ellipse cx="634" cy="795" rx="6.5" ry="4.8" transform="rotate(10 634 795)" fill="#fff" stroke="#1e1e1e" stroke-width="4.4"/>
<path d="M622,772 L627,786 L623,799" fill="none" stroke="#1e1e1e" stroke-width="4.4" stroke-linejoin="round" stroke-linecap="round" />
<path d="M463.8,899.8 L472.7,891 L503.6,860 L540.4,849.7 L561,845.3 L572.9,845.3 L620,868.9 L635,880 L604,888 L599,957 L587.6,961.7 L561,973.5 L543.4,979.4 Q535,980 526,972.7 Q500,955 490,925 L463.8,911.6 Z" fill="#fff" stroke="#1e1e1e" stroke-width="2" stroke-linejoin="round" stroke-linecap="round" />
<path d="M487.4,898.3 Q492,862 543.4,857.1 Q600,853 620,876.2 M487.4,898.3 Q492,928 543.4,933.7 L595,929.3" fill="none" stroke="#1e1e1e" stroke-width="3.4" stroke-linejoin="round" stroke-linecap="round" />
<path d="M499,907 Q520,889 549.3,888 Q580,888 596.4,896.9" fill="none" stroke="#1e1e1e" stroke-width="1.5" stroke-linejoin="round" stroke-linecap="round" />
<path d="M518.3,919 Q540,900 568.4,898.3 Q588,898 596,905" fill="none" stroke="#1e1e1e" stroke-width="1.4" stroke-linejoin="round" stroke-linecap="round" />
<path d="M542,927.8 Q560,912 584.6,911.6" fill="none" stroke="#1e1e1e" stroke-width="1.4" stroke-linejoin="round" stroke-linecap="round" />
<path d="M494,895 Q500,866 543,858" fill="none" stroke="#1e1e1e" stroke-width="1.3" stroke-linejoin="round" stroke-linecap="round" />
<path d="M463.8,911.6 L543.4,948.4 L580.2,938.1 L596.4,935.2" fill="none" stroke="#1e1e1e" stroke-width="2.2" stroke-linejoin="round" stroke-linecap="round" />
<path d="M543.4,961.7 L590.5,952.9" fill="none" stroke="#1e1e1e" stroke-width="1.5" stroke-linejoin="round" stroke-linecap="round" />
<path d="M520,950 Q540,965 570,968 Q590,966 600,960" fill="none" stroke="#1e1e1e" stroke-width="1.5" stroke-linejoin="round" stroke-linecap="round" />
<ellipse cx="545" cy="937" rx="6" ry="6" transform="rotate(0 545 937)" fill="#fff" stroke="#1e1e1e" stroke-width="2"/>
<path d="M541,936 L549,936 L549,944 L541,944 Z" fill="#1e1e1e" stroke="none"/>
<path d="M467,897 L472,893 L481,894 L484.5,900 L481,907 L472,908.7 L467,904 Z" fill="#fff" stroke="#1e1e1e" stroke-width="2.4" stroke-linejoin="round" stroke-linecap="round" />
<path d="M470,898 L481,897 M470,903 L481,902" fill="none" stroke="#1e1e1e" stroke-width="2" stroke-linejoin="round" stroke-linecap="round" />
<ellipse cx="565.5" cy="851" rx="4.5" ry="3.5" transform="rotate(0 565.5 851)" fill="none" stroke="#1e1e1e" stroke-width="1.8"/>
<path d="M520,950 L540,948 L545,985 L525,980 Z" fill="#fff" stroke="#1e1e1e" stroke-width="1.8" stroke-linejoin="round" stroke-linecap="round" />
<ellipse cx="531.5" cy="975" rx="7" ry="7" transform="rotate(0 531.5 975)" fill="#fff" stroke="#1e1e1e" stroke-width="2.2"/>
<path d="M528,971 L536,971 L536,979 L528,979 Z" fill="#1e1e1e" stroke="none"/>
<path d="M520.5,975.4 L505.8,1007.5 L494,1007.5" fill="none" stroke="#1e1e1e" stroke-width="1.3" stroke-linejoin="round" stroke-dasharray="4 3"/>
<path d="M603.6,887 L660,861 Q667,858 669,862 L671.9,945 Q672,950 666,952 L612,980.7 Q606,982 604,975 Z" fill="#fff" stroke="#1e1e1e" stroke-width="2.2" stroke-linejoin="round" stroke-linecap="round" />
<path d="M596,884 L603.6,887 M640,862 L660,861" fill="none" stroke="#1e1e1e" stroke-width="1.6" stroke-linejoin="round" stroke-linecap="round" />
<ellipse cx="637" cy="925.7" rx="27.5" ry="36" transform="rotate(-15 637 925.7)" fill="none" stroke="#1e1e1e" stroke-width="1.5" stroke-dasharray="9 2.5"/>
<path d="M628,925 Q628,915 634,915 Q640,915 640,925 L638,945 L630,947 Z" fill="none" stroke="#1e1e1e" stroke-width="1.8" stroke-linejoin="round" stroke-linecap="round" />
<path d="M631,930 L637,929" fill="none" stroke="#1e1e1e" stroke-width="1.6" stroke-linejoin="round" stroke-linecap="round" />
<ellipse cx="612" cy="900" rx="2.5" ry="3" transform="rotate(0 612 900)" fill="none" stroke="#1e1e1e" stroke-width="1.4"/>
<ellipse cx="664" cy="873" rx="2.5" ry="3" transform="rotate(0 664 873)" fill="none" stroke="#1e1e1e" stroke-width="1.4"/>
<ellipse cx="664" cy="940" rx="2.5" ry="3" transform="rotate(0 664 940)" fill="none" stroke="#1e1e1e" stroke-width="1.4"/>
<ellipse cx="612" cy="968" rx="2.5" ry="3" transform="rotate(0 612 968)" fill="none" stroke="#1e1e1e" stroke-width="1.4"/>
<path d="M625.7,868.6 L630,857 Q632,854 636,854 L664.3,853.5 Q669,855 670,860" fill="#fff" stroke="#1e1e1e" stroke-width="2" stroke-linejoin="round" stroke-linecap="round" />
<path d="M628,866 L634,856 L640,858 L636,867 Z M641,861 L646,855 L652,857 L649,864" fill="none" stroke="#1e1e1e" stroke-width="1.8" stroke-linejoin="round" stroke-linecap="round" />
<path d="M599,894 Q600,889 606,888 M598.6,894.3 L592.9,975.7 Q594,982 604.3,982.9" fill="none" stroke="#1e1e1e" stroke-width="1.8" stroke-linejoin="round" stroke-linecap="round" />
<path d="M471,930 L481,930 L481,948 L471,948 Z" fill="#fff" stroke="#1e1e1e" stroke-width="1.8" stroke-linejoin="round" stroke-linecap="round" />
<path d="M472,935 L480,933 M472,940 L480,938 M472,945 L480,943" fill="none" stroke="#1e1e1e" stroke-width="1.4" stroke-linejoin="round" stroke-linecap="round" />
<path d="M466,950 Q466,946 476,946 Q487,946 487,950 L487,962 Q476,968 466,962 Z" fill="#fff" stroke="#1e1e1e" stroke-width="2.2" stroke-linejoin="round" stroke-linecap="round" />
<path d="M466,954 L487,954 L487,962 Q476,968 466,962 Z" fill="#1e1e1e" stroke="none"/>
<ellipse cx="453" cy="1010" rx="8.5" ry="9.5" transform="rotate(0 453 1010)" fill="#fff" stroke="#1e1e1e" stroke-width="2"/>
<path d="M449,1002 Q456,1010 450,1019" fill="none" stroke="#1e1e1e" stroke-width="1.6" stroke-linejoin="round" stroke-linecap="round" />
<path d="M460,1004 L468,1006 L468,1014 L460,1016 Z" fill="#1e1e1e" stroke="none"/>
<path d="M468,1007 L471,1010 L468,1013" fill="none" stroke="#1e1e1e" stroke-width="1.6" stroke-linejoin="round" stroke-linecap="round" />
<ellipse cx="486" cy="1009" rx="8.5" ry="9.5" transform="rotate(0 486 1009)" fill="#fff" stroke="#1e1e1e" stroke-width="3.4"/>
<ellipse cx="486" cy="1009" rx="3.5" ry="4.5" transform="rotate(0 486 1009)" fill="none" stroke="#1e1e1e" stroke-width="1.6"/>
<path d="M676.6,929.8 L731,898.6 Q737,896 741,904 L740.5,986 Q740,990 736,992 L674,1021.8 Q668,1022 668.6,1016 L673,936 Z" fill="#fff" stroke="#1e1e1e" stroke-width="2.2" stroke-linejoin="round" stroke-linecap="round" />
<path d="M676.6,929.8 L731,898.6" fill="none" stroke="#1e1e1e" stroke-width="3.2" stroke-linejoin="round" stroke-linecap="round" />
<ellipse cx="705.7" cy="964.5" rx="26" ry="36" transform="rotate(-20 705.7 964.5)" fill="none" stroke="#1e1e1e" stroke-width="1.6"/>
<path d="M680,950 Q680,985 700,998 Q715,1004 728,990" fill="none" stroke="#1e1e1e" stroke-width="3" stroke-linejoin="round" stroke-linecap="round" />
<ellipse cx="681" cy="936" rx="2.5" ry="3.5" transform="rotate(0 681 936)" fill="none" stroke="#1e1e1e" stroke-width="1.5"/>
<ellipse cx="732" cy="906" rx="2.5" ry="3.5" transform="rotate(0 732 906)" fill="none" stroke="#1e1e1e" stroke-width="1.5"/>
<ellipse cx="734" cy="979" rx="2.5" ry="3.5" transform="rotate(0 734 979)" fill="none" stroke="#1e1e1e" stroke-width="1.5"/>
<ellipse cx="677" cy="1011" rx="2.5" ry="3.5" transform="rotate(0 677 1011)" fill="none" stroke="#1e1e1e" stroke-width="1.5"/>
<path d="M716,918 L724,914 L722,920 Z" fill="#1e1e1e" stroke="none"/>
<path d="M745.5,971.3 L802.5,937.9 Q808,937 810.4,943.8 L811.4,1016 Q811,1024 806.4,1028.2 L749.5,1059.7 L759,1059 L744,1060 Q738,1060 738.7,1054 L741.6,979 Q742,974 745.5,971.3 Z" fill="#fff" stroke="#1e1e1e" stroke-width="2.2" stroke-linejoin="round" stroke-linecap="round" />
<path d="M745.5,971.3 L802.5,937.9" fill="none" stroke="#1e1e1e" stroke-width="3.2" stroke-linejoin="round" stroke-linecap="round" />
<path d="M742,980 L739,1055" fill="none" stroke="#1e1e1e" stroke-width="3" stroke-linejoin="round" stroke-linecap="round" />
<ellipse cx="800.5" cy="946.7" rx="2.5" ry="3.5" transform="rotate(0 800.5 946.7)" fill="none" stroke="#1e1e1e" stroke-width="1.5"/>
<ellipse cx="752.4" cy="974.2" rx="2.5" ry="3.5" transform="rotate(0 752.4 974.2)" fill="none" stroke="#1e1e1e" stroke-width="1.5"/>
<ellipse cx="802.5" cy="1021.4" rx="2.5" ry="3.5" transform="rotate(0 802.5 1021.4)" fill="none" stroke="#1e1e1e" stroke-width="1.5"/>
<path d="M744,1046 L751,1046 L751,1053 L744,1053 Z" fill="#1e1e1e" stroke="none"/>
<path d="M786,958 L794,954 L792,960 Z" fill="#1e1e1e" stroke="none"/>
<path d="M308,958 L308,982 Q312,996 339,997 Q366,996 370,982 L370,958" fill="#fff" stroke="#1e1e1e" stroke-width="2.4" stroke-linejoin="round" stroke-linecap="round" />
<ellipse cx="339" cy="957" rx="31" ry="15" transform="rotate(-5 339 957)" fill="#fff" stroke="#1e1e1e" stroke-width="2.6"/>
<path d="M308,966 Q312,980 339,981 Q366,980 370,966" fill="none" stroke="#1e1e1e" stroke-width="2.8" stroke-linejoin="round" stroke-linecap="round" />
<path d="M308,972 Q312,986 339,987 Q366,986 370,972" fill="none" stroke="#1e1e1e" stroke-width="2.4" stroke-linejoin="round" stroke-linecap="round" />
<path d="M308,977 Q312,991 339,992 Q366,991 370,977" fill="none" stroke="#1e1e1e" stroke-width="2.2" stroke-linejoin="round" stroke-linecap="round" />
<ellipse cx="339" cy="956" rx="21" ry="11" transform="rotate(-5 339 956)" fill="none" stroke="#1e1e1e" stroke-width="3"/>
<path d="M362,965 L372,958 L372,982 Q370,988 360,992 Z" fill="#1e1e1e" stroke="none"/>
<path d="M307,962 L313,968 L314,988 Q309,984 307,978 Z" fill="#1e1e1e" stroke="none"/>
<path d="M318,967 Q326,968 333,963 M346,964 Q356,968 364,962" fill="none" stroke="#1e1e1e" stroke-width="1.6" stroke-linejoin="round" stroke-linecap="round" />
<path d="M238,952 L297,922 Q315,916 326,922 Q342,930 346,944 L346,965 L330,968 Q328,955 318,948 Q310,944 300,948 L248,973" fill="#fff" stroke="#1e1e1e" stroke-width="2" stroke-linejoin="round" stroke-linecap="round" />
<ellipse cx="242" cy="963" rx="6" ry="10.5" transform="rotate(-25 242 963)" fill="#fff" stroke="#1e1e1e" stroke-width="2"/>
<ellipse cx="242" cy="963" rx="2.5" ry="4" transform="rotate(-25 242 963)" fill="none" stroke="#1e1e1e" stroke-width="1.4"/>
<path d="M322,992 Q315,1020 292,1038 Q283,1045 270,1050 L283,1065 Q300,1055 315,1040 Q338,1018 346,992" fill="#fff" stroke="#1e1e1e" stroke-width="2" stroke-linejoin="round" stroke-linecap="round" />
<ellipse cx="276" cy="1057" rx="7" ry="10" transform="rotate(-30 276 1057)" fill="#fff" stroke="#1e1e1e" stroke-width="2"/>
<ellipse cx="277" cy="1057" rx="2.5" ry="4" transform="rotate(-30 277 1057)" fill="none" stroke="#1e1e1e" stroke-width="1.4"/>
<ellipse cx="215" cy="983" rx="9.5" ry="12" transform="rotate(25 215 983)" fill="none" stroke="#1e1e1e" stroke-width="3.2"/>
<path d="M208,975 Q214,983 210,993" fill="none" stroke="#1e1e1e" stroke-width="1.6" stroke-linejoin="round" stroke-linecap="round" />
<path d="M201,952 L210,969" fill="none" stroke="#1e1e1e" stroke-width="7" stroke-linejoin="round" stroke-linecap="round" />
<path d="M221,973 L229,963" fill="none" stroke="#1e1e1e" stroke-width="4" stroke-linejoin="round" stroke-linecap="round" />
<path d="M226,975 L236,969" fill="none" stroke="#1e1e1e" stroke-width="1.3" stroke-linejoin="round" />
<ellipse cx="245" cy="1076" rx="10" ry="12.5" transform="rotate(20 245 1076)" fill="none" stroke="#1e1e1e" stroke-width="3.2"/>
<path d="M239,1068 Q245,1076 241,1086" fill="none" stroke="#1e1e1e" stroke-width="1.6" stroke-linejoin="round" stroke-linecap="round" />
<path d="M233,1044 L240,1062" fill="none" stroke="#1e1e1e" stroke-width="7" stroke-linejoin="round" stroke-linecap="round" />
<path d="M250,1066 L261,1055" fill="none" stroke="#1e1e1e" stroke-width="4" stroke-linejoin="round" stroke-linecap="round" />
<path d="M255,1071 L268,1063" fill="none" stroke="#1e1e1e" stroke-width="1.3" stroke-linejoin="round" />
<g transform="translate(156,1121) rotate(-26)"><path d="M-2,-6 L-16,-6 L-16,6 L-2,6" fill="#fff" stroke="#1e1e1e" stroke-width="2"/><path d="M-16,-8 L-30,-8 Q-34,0 -30,8 L-16,8 Z" fill="#fff" stroke="#1e1e1e" stroke-width="2.4"/><path d="M-25,-8 L-25,8 M-20,-8 L-20,8" stroke="#1e1e1e" stroke-width="2"/><path d="M0,-23 L32,-26 L32,26 L0,23 Z" fill="#fff" stroke="#1e1e1e" stroke-width="2"/><ellipse cx="0" cy="0" rx="11" ry="23" fill="#fff" stroke="#1e1e1e" stroke-width="2.1"/><path d="M22,-25 Q30,0 22,25" fill="none" stroke="#1e1e1e" stroke-width="1.3" stroke-dasharray="5 2"/><path d="M14,-21 L20,-24 L21,-17" fill="none" stroke="#1e1e1e" stroke-width="1.5"/><ellipse cx="60" cy="0" rx="11" ry="36" fill="#fff" stroke="#1e1e1e" stroke-width="3"/><path d="M32,-34 L60,-36 L60,36 L32,34 Z" fill="#fff" stroke="none"/><path d="M32,-34 L60,-36 M32,34 L60,36" fill="none" stroke="#1e1e1e" stroke-width="2.2"/><ellipse cx="32" cy="0" rx="11" ry="34" fill="#fff" stroke="#1e1e1e" stroke-width="2.4"/><path d="M42,-34 Q53,0 42,34" fill="none" stroke="#1e1e1e" stroke-width="1.5"/><path d="M48,-35 Q59,0 48,35 M53,-35 Q64,0 53,35" fill="none" stroke="#1e1e1e" stroke-width="2.4"/><path d="M60,-36 Q71,0 60,36" fill="none" stroke="#1e1e1e" stroke-width="3"/><path d="M36,-36 L38,-30 M44,-36 L46,-30 M52,-37 L54,-31 M40,30 L42,36 M50,31 L52,37 M57,30 L60,36" stroke="#1e1e1e" stroke-width="2"/><path d="M68,-9 L80,-8 L80,8 L68,9" fill="#fff" stroke="#1e1e1e" stroke-width="2"/><path d="M72,-9 L72,9 M76,-8 L76,8" stroke="#1e1e1e" stroke-width="1.8"/></g>
<path d="M95,1152 L116,1141" fill="none" stroke="#1e1e1e" stroke-width="1.3" stroke-linejoin="round" />
<path d="M219,1083 L236,1074" fill="none" stroke="#1e1e1e" stroke-width="1.3" stroke-linejoin="round" stroke-dasharray="3 2"/>
<ellipse cx="96" cy="1159" rx="10" ry="12.8" transform="rotate(15 96 1159)" fill="none" stroke="#1e1e1e" stroke-width="3.2"/>
<path d="M90,1151 Q96,1159 92,1169" fill="none" stroke="#1e1e1e" stroke-width="1.6" stroke-linejoin="round" stroke-linecap="round" />
<path d="M83,1128 L91,1143" fill="none" stroke="#1e1e1e" stroke-width="7" stroke-linejoin="round" stroke-linecap="round" />
<path d="M101,1145 L111,1138" fill="none" stroke="#1e1e1e" stroke-width="4" stroke-linejoin="round" stroke-linecap="round" />
<path d="M86,1166 L72.1,1170.8 L72.1,1240.6 L377.2,1067.6 L377.2,1142" fill="none" stroke="#1e1e1e" stroke-width="1.3" stroke-linejoin="round" stroke-dasharray="40 4 3 4"/>
<path d="M225.5,1208.8 L353,1137.4 Q366,1135 368,1147 Q368,1154 366.6,1157 L239,1230" fill="#fff" stroke="#1e1e1e" stroke-width="2" stroke-linejoin="round" stroke-linecap="round" />
<ellipse cx="233" cy="1219" rx="7.5" ry="11.5" transform="rotate(-30 233 1219)" fill="#fff" stroke="#1e1e1e" stroke-width="2"/>
<ellipse cx="233" cy="1219" rx="3" ry="4.5" transform="rotate(-30 233 1219)" fill="none" stroke="#1e1e1e" stroke-width="1.6"/>
<circle cx="348" cy="1145" r="0.9" fill="#1e1e1e"/>
<circle cx="352" cy="1148" r="0.9" fill="#1e1e1e"/>
<circle cx="328" cy="1152" r="0.9" fill="#1e1e1e"/>
<circle cx="330" cy="1157" r="0.9" fill="#1e1e1e"/>
<circle cx="303" cy="1186" r="0.9" fill="#1e1e1e"/>
<circle cx="297" cy="1191" r="0.9" fill="#1e1e1e"/>
<circle cx="245" cy="1213" r="0.9" fill="#1e1e1e"/>
<circle cx="252" cy="1216" r="0.9" fill="#1e1e1e"/>
<circle cx="311" cy="1172" r="0.9" fill="#1e1e1e"/>
<path d="M224,1225 L206,1236" fill="none" stroke="#1e1e1e" stroke-width="1.3" stroke-linejoin="round" />
<path d="M190,1232 L199,1227 L207,1233 L209,1248 L203,1255 L193,1252 L188,1242 Z" fill="none" stroke="#1e1e1e" stroke-width="3.2" stroke-linejoin="round" stroke-linecap="round" />
<path d="M184,1209 L192,1229" fill="none" stroke="#1e1e1e" stroke-width="7" stroke-linejoin="round" stroke-linecap="round" />
<path d="M203,1230 L211,1222" fill="none" stroke="#1e1e1e" stroke-width="4" stroke-linejoin="round" stroke-linecap="round" />
<path d="M206,1238 L222,1229" fill="none" stroke="#1e1e1e" stroke-width="1.3" stroke-linejoin="round" />
<path d="M157,1250 L166,1241 L178,1243 L183.5,1254 L181,1266 L171,1272.7 L160,1270 L154.7,1260 Z" fill="#fff" stroke="#1e1e1e" stroke-width="2.4" stroke-linejoin="round" stroke-linecap="round" />
<path d="M171,1245 L176,1250 L174,1266 M183,1254 L176,1250" fill="none" stroke="#1e1e1e" stroke-width="1.6" stroke-linejoin="round" stroke-linecap="round" />
<path d="M159,1257 Q160,1250 166,1250 Q172,1252 171.4,1259 Q170,1266 164,1266 Q158,1264 159,1257 Z" fill="#1e1e1e" stroke="none"/>
<path d="M147,1268 L155,1263" fill="none" stroke="#1e1e1e" stroke-width="1.6" stroke-linejoin="round" />
<path d="M119,1279 L141,1268 Q147,1268 146,1275 L123,1289" fill="#fff" stroke="#1e1e1e" stroke-width="2.4" stroke-linejoin="round" stroke-linecap="round" />
<path d="M123,1277 L127,1288 M129,1274 L133,1285 M135,1271 L139,1282 M141,1269 L144,1278" fill="none" stroke="#1e1e1e" stroke-width="2.6" stroke-linejoin="round" stroke-linecap="round" />
<path d="M99,1281 L112,1274 L122,1279 L122.5,1296 L111,1305 L100,1301 Z" fill="#fff" stroke="#1e1e1e" stroke-width="2.6" stroke-linejoin="round" stroke-linecap="round" />
<path d="M106,1279 L110,1302 M114,1276 L117,1300" fill="none" stroke="#1e1e1e" stroke-width="2.4" stroke-linejoin="round" stroke-linecap="round" />
<path d="M86,1291 Q86,1284 96,1286 L101,1288 L103,1304 L93,1309 Q85,1304 86,1291 Z" fill="#fff" stroke="#1e1e1e" stroke-width="3" stroke-linejoin="round" stroke-linecap="round" />
<path d="M87,1292 L93,1289 L95,1306 L90,1307 Z" fill="#1e1e1e" stroke="none"/>
<ellipse cx="93" cy="1297" rx="2.5" ry="3.5" transform="rotate(-20 93 1297)" fill="#fff" stroke="#1e1e1e" stroke-width="1.5"/>
<path d="M600.2,1153 L762.7,1060" fill="none" stroke="#1e1e1e" stroke-width="1.3" stroke-linejoin="round" stroke-dasharray="14 3 3 3"/>
<path d="M600.2,1153 L698.8,1211" fill="none" stroke="#1e1e1e" stroke-width="1.3" stroke-linejoin="round" stroke-dasharray="14 3 3 3"/>
<path d="M691,1115 L696,1109 L703,1110 L706,1118 L702,1126 L694,1126.4 L691,1121 Z" fill="#fff" stroke="#1e1e1e" stroke-width="2.4" stroke-linejoin="round" stroke-linecap="round" />
<path d="M694,1113 L700,1123 M692,1121 L704,1114" fill="none" stroke="#1e1e1e" stroke-width="1.8" stroke-linejoin="round" stroke-linecap="round" />
<path d="M704,1123 L712,1129" fill="none" stroke="#1e1e1e" stroke-width="1.2" stroke-linejoin="round" />
<path d="M630,1142 L634,1138 L640,1139 L643,1145 L640,1151 L634,1151 L630,1147 Z" fill="#fff" stroke="#1e1e1e" stroke-width="2.2" stroke-linejoin="round" stroke-linecap="round" />
<path d="M633,1141 L639,1149" fill="none" stroke="#1e1e1e" stroke-width="1.6" stroke-linejoin="round" stroke-linecap="round" />
<path d="M642,1146 L653,1151 L651,1156 L640,1151" fill="#fff" stroke="#1e1e1e" stroke-width="1.8" stroke-linejoin="round" stroke-linecap="round" />
<path d="M645,1147 L644,1153 M648.5,1148.5 L647.5,1154.5" fill="none" stroke="#1e1e1e" stroke-width="1.6" stroke-linejoin="round" stroke-linecap="round" />
<path d="M655,1158 Q655,1166 662,1166 L687,1155 Q696,1152 696,1144 Q695,1136 686,1137 L660,1154 Q655,1155 655,1158 Z" fill="#fff" stroke="#1e1e1e" stroke-width="1.8" stroke-linejoin="round" stroke-linecap="round" />
<ellipse cx="660" cy="1161" rx="3.5" ry="3.5" transform="rotate(0 660 1161)" fill="none" stroke="#1e1e1e" stroke-width="2"/>
<path d="M666,1166 L700,1183" fill="none" stroke="#1e1e1e" stroke-width="1.4" stroke-linejoin="round" stroke-linecap="round" />
<path d="M709.3,1130.7 L759.6,1101.8 L767.1,1101.8 L786.4,1113.6 L788.6,1195 L783.2,1202.5 L722.1,1236.8 Q718,1237 714.6,1233.6 L702,1224 Q699,1220 698.6,1212 L698.6,1195 L704,1143.6 Q705,1136 709.3,1130.7 Z" fill="#fff" stroke="#1e1e1e" stroke-width="2.1" stroke-linejoin="round" stroke-linecap="round" />
<path d="M725.4,1150 Q724,1142 732,1140 L779,1113.6 L786.4,1113.6" fill="none" stroke="#1e1e1e" stroke-width="1.8" stroke-linejoin="round" stroke-linecap="round" />
<path d="M725.4,1150 L721,1233.6" fill="none" stroke="#1e1e1e" stroke-width="1.8" stroke-linejoin="round" stroke-linecap="round" />
<path d="M700.7,1192.9 L720,1202.5" fill="none" stroke="#1e1e1e" stroke-width="1.6" stroke-linejoin="round" stroke-linecap="round" />
<path d="M730,1152 L770,1128 L782,1131 L782,1164 L728,1190 Z" fill="none" stroke="#1e1e1e" stroke-width="1.8" stroke-linejoin="round" stroke-linecap="round" />
<path d="M728.6,1160 Q730,1154 737,1154 Q744,1156 744.6,1166 L744.6,1174 L729,1180 Z" fill="#1e1e1e" stroke="none"/>
<path d="M733,1162 L738,1161 L738,1171 L733,1173 Z" fill="#fff" stroke="none"/>
<path d="M755.4,1146 L769,1144.6 L770.4,1163 L756,1168 Z" fill="#1e1e1e" stroke="none"/>
<path d="M759,1150 L765,1149 L765,1158 L759,1160 Z" fill="#fff" stroke="none"/>
<path d="M772.5,1131 L781,1130.7 L782,1156.4 L773,1158 Z" fill="none" stroke="#1e1e1e" stroke-width="2" stroke-linejoin="round" stroke-linecap="round" />
<path d="M727.5,1186.4 L780,1162 M727.5,1191 L780,1167" fill="none" stroke="#1e1e1e" stroke-width="2.2" stroke-linejoin="round" stroke-linecap="round" />
<path d="M728,1194 L783,1168 L786,1196 L735,1226 Q728,1226 728,1218 Z" fill="none" stroke="#1e1e1e" stroke-width="1.6" stroke-linejoin="round" stroke-linecap="round" />
<ellipse cx="755" cy="1190" rx="6" ry="8.5" transform="rotate(15 755 1190)" fill="none" stroke="#1e1e1e" stroke-width="1.8"/>
<path d="M749,1184 L755,1181 L754,1192 L749,1194 Z" fill="#1e1e1e" stroke="none"/>
<path d="M767,1172 L777,1168 L778,1178 L768,1181 Z" fill="#1e1e1e" stroke="none"/>
<path d="M736,1218 L750,1211 L751,1217 L737,1224 Z" fill="none" stroke="#1e1e1e" stroke-width="1.5" stroke-linejoin="round" stroke-linecap="round" />
<path d="M750,1207.9 L771,1220" fill="none" stroke="#1e1e1e" stroke-width="1.4" stroke-linejoin="round" stroke-linecap="round" />
<ellipse cx="731.8" cy="1150" rx="3" ry="3.5" transform="rotate(0 731.8 1150)" fill="none" stroke="#1e1e1e" stroke-width="1.8"/>
<ellipse cx="777.9" cy="1121" rx="3" ry="3.5" transform="rotate(0 777.9 1121)" fill="none" stroke="#1e1e1e" stroke-width="1.8"/>
<ellipse cx="779" cy="1196" rx="3" ry="3.5" transform="rotate(0 779 1196)" fill="none" stroke="#1e1e1e" stroke-width="1.8"/>
<ellipse cx="728.6" cy="1227" rx="3" ry="3.5" transform="rotate(0 728.6 1227)" fill="none" stroke="#1e1e1e" stroke-width="1.8"/>
<path d="M806.4,1154.3 L831.4,1140 Q834,1139 836,1142 L841.4,1145.7 L847,1145.7 L865.7,1137" fill="none" stroke="#1e1e1e" stroke-width="1.5" stroke-linejoin="round" stroke-linecap="round" />
<path d="M865.7,1137 L880,1128.6 L914.3,1110.7" fill="none" stroke="#1e1e1e" stroke-width="1.4" stroke-linejoin="round" stroke-dasharray="14 4 3 4"/>
<path d="M795.7,1172.9 L865.7,1137" fill="none" stroke="#1e1e1e" stroke-width="1.5" stroke-linejoin="round" stroke-linecap="round" />
<path d="M791,1160 L801,1152 Q806,1152 807,1157 L807,1166 L797,1172 Z" fill="#fff" stroke="#1e1e1e" stroke-width="1.8" stroke-linejoin="round" stroke-linecap="round" />
<ellipse cx="794" cy="1163.5" rx="5" ry="8.5" transform="rotate(25 794 1163.5)" fill="#fff" stroke="#1e1e1e" stroke-width="1.9"/>
<path d="M790,1158 L797,1170 M794,1155 L800,1166" fill="none" stroke="#1e1e1e" stroke-width="1.5" stroke-linejoin="round" stroke-linecap="round" />
<path d="M771.4,1222 L777,1217.5 L785,1219 L787.5,1227 L783,1233.6 L774,1233.6 L771,1228 Z" fill="#fff" stroke="#1e1e1e" stroke-width="2.2" stroke-linejoin="round" stroke-linecap="round" />
<path d="M775,1221 L781,1231 M773,1230 L785,1222" fill="none" stroke="#1e1e1e" stroke-width="1.6" stroke-linejoin="round" stroke-linecap="round" />
<path d="M893,1136 Q896,1128 905,1124 L925,1113 Q932,1112 933,1118 Q932,1126 925,1129 L905,1139 Q895,1143 893,1136 Z" fill="#fff" stroke="#1e1e1e" stroke-width="1.7" stroke-linejoin="round" stroke-linecap="round" />
<ellipse cx="927" cy="1121" rx="4" ry="4" transform="rotate(0 927 1121)" fill="none" stroke="#1e1e1e" stroke-width="2.2"/>
<path d="M938,1124 L950,1130 L948,1135 L937,1130 Z" fill="#fff" stroke="#1e1e1e" stroke-width="1.8" stroke-linejoin="round" stroke-linecap="round" />
<path d="M941,1125 L940,1132 M945,1127 L944,1134" fill="none" stroke="#1e1e1e" stroke-width="1.4" stroke-linejoin="round" stroke-linecap="round" />
<ellipse cx="957" cy="1135" rx="6.5" ry="6" transform="rotate(0 957 1135)" fill="#fff" stroke="#1e1e1e" stroke-width="2"/>
<path d="M953,1130 L960,1140" fill="none" stroke="#1e1e1e" stroke-width="1.4" stroke-linejoin="round" stroke-linecap="round" />
<path d="M808.6,1188.6 L862.9,1160 Q868,1158 871.4,1164.3 L871.4,1241 Q871,1249 865.7,1252.9 L807,1281.4 Q800,1283 800,1276 L803,1195 Q804,1191 808.6,1188.6 Z" fill="#fff" stroke="#1e1e1e" stroke-width="2.6" stroke-linejoin="round" stroke-linecap="round" />
<ellipse cx="814.3" cy="1195.7" rx="2.8" ry="3.3" transform="rotate(-30 814.3 1195.7)" fill="none" stroke="#1e1e1e" stroke-width="2.6"/>
<ellipse cx="862.9" cy="1168.6" rx="2.8" ry="3.3" transform="rotate(-30 862.9 1168.6)" fill="none" stroke="#1e1e1e" stroke-width="2.6"/>
<ellipse cx="862.9" cy="1242.9" rx="2.8" ry="3.3" transform="rotate(-30 862.9 1242.9)" fill="none" stroke="#1e1e1e" stroke-width="2.6"/>
<ellipse cx="808.6" cy="1272.9" rx="2.8" ry="3.3" transform="rotate(-30 808.6 1272.9)" fill="none" stroke="#1e1e1e" stroke-width="2.6"/>
<path d="M881.4,1234.3 L935.7,1201.4 Q942,1199 943,1205 L944.3,1288 Q944,1294 938.6,1295.7 L877,1325.7 Q873,1327 874,1320 L876,1242 Q877,1237 881.4,1234.3 Z" fill="#fff" stroke="#1e1e1e" stroke-width="3.2" stroke-linejoin="round" stroke-linecap="round" />
<path d="M887,1245 L932,1220 Q937,1221 937,1227 L936,1249 L887,1272 Z" fill="none" stroke="#1e1e1e" stroke-width="2.8" stroke-linejoin="round" stroke-linecap="round" />
<path d="M887,1285 L935,1259 L936,1284 L895,1307 Q887,1305 887,1298 Z" fill="none" stroke="#1e1e1e" stroke-width="2.8" stroke-linejoin="round" stroke-linecap="round" />
<ellipse cx="888" cy="1240" rx="3" ry="3.5" transform="rotate(0 888 1240)" fill="none" stroke="#1e1e1e" stroke-width="1.8"/>
<ellipse cx="935" cy="1210" rx="3" ry="3.5" transform="rotate(0 935 1210)" fill="none" stroke="#1e1e1e" stroke-width="1.8"/>
<ellipse cx="935" cy="1285" rx="3" ry="3.5" transform="rotate(0 935 1285)" fill="none" stroke="#1e1e1e" stroke-width="1.8"/>
<ellipse cx="883" cy="1315" rx="3" ry="3.5" transform="rotate(0 883 1315)" fill="none" stroke="#1e1e1e" stroke-width="1.8"/>
<path d="M954.3,1274.3 L1008.6,1242.9 Q1015,1242 1018.6,1245.7 L1020,1327 Q1019,1333 1014.3,1335.7 L954.3,1365.7 Q948,1366 944.3,1361.4 L945.7,1330 L954.3,1274.3 Z" fill="#fff" stroke="#1e1e1e" stroke-width="1.8" stroke-linejoin="round" stroke-linecap="round" />
<path d="M945.7,1330 L951,1330 L951,1362" fill="none" stroke="#1e1e1e" stroke-width="1.4" stroke-linejoin="round" stroke-linecap="round" />
<ellipse cx="965.7" cy="1280" rx="3" ry="3.5" transform="rotate(0 965.7 1280)" fill="none" stroke="#1e1e1e" stroke-width="1.5"/>
<ellipse cx="1012.9" cy="1255.7" rx="3" ry="3.5" transform="rotate(0 1012.9 1255.7)" fill="none" stroke="#1e1e1e" stroke-width="1.5"/>
<ellipse cx="1012.9" cy="1330" rx="3" ry="3.5" transform="rotate(0 1012.9 1330)" fill="none" stroke="#1e1e1e" stroke-width="1.5"/>
<ellipse cx="958.6" cy="1358.6" rx="3" ry="3.5" transform="rotate(0 958.6 1358.6)" fill="none" stroke="#1e1e1e" stroke-width="1.5"/>
<path d="M962,1360 L980,1369" fill="none" stroke="#1e1e1e" stroke-width="1.2" stroke-linejoin="round" />
<g transform="translate(982,1370) rotate(28)"><path d="M0,-3.5 L40,-4.5 L40,4.5 L0,3.5 Q-3,0 0,-3.5 Z" fill="#fff" stroke="#1e1e1e" stroke-width="1.8"/><path d="M5,-4 L3,4 M10,-4 L8,4 M15,-4 L13,4 M20,-4 L18,4 M25,-4 L23,4 M30,-4 L28,4 M35,-4 L33,4" stroke="#1e1e1e" stroke-width="1.8"/><path d="M40,-6 L45,-7 L46,7 L40,6 Z" fill="#1e1e1e" stroke="#1e1e1e" stroke-width="1.6"/></g>
<text x="0" y="0" transform="translate(715.5 431.419) scale(0.82 1)" text-anchor="middle" font-size="30.5">1</text>
<text x="0" y="0" transform="translate(507 511.919) scale(0.82 1)" text-anchor="middle" font-size="30.5">2</text>
<text x="0" y="0" transform="translate(505 579.919) scale(0.82 1)" text-anchor="middle" font-size="30.5">3</text>
<text x="0" y="0" transform="translate(683.3 468.419) scale(0.82 1)" text-anchor="middle" font-size="30.5">4</text>
<text x="0" y="0" transform="translate(689 504.519) scale(0.82 1)" text-anchor="middle" font-size="30.5">5</text>
<text x="0" y="0" transform="translate(672.3 667.919) scale(0.82 1)" text-anchor="middle" font-size="30.5">6</text>
<text x="0" y="0" transform="translate(687 566.919) scale(0.82 1)" text-anchor="middle" font-size="30.5">7</text>
<text x="0" y="0" transform="translate(728.5 581.919) scale(0.82 1)" text-anchor="middle" font-size="30.5">8</text>
<text x="0" y="0" transform="translate(663 614.319) scale(0.82 1)" text-anchor="middle" font-size="30.5">9</text>
<text x="0" y="0" transform="translate(670.4 722.919) scale(0.82 1)" text-anchor="middle" font-size="30.5">10</text>
<text x="0" y="0" transform="translate(706.5 762.319) scale(0.82 1)" text-anchor="middle" font-size="30.5">11</text>
<text x="0" y="0" transform="translate(425.5 855.619) scale(0.82 1)" text-anchor="middle" font-size="30.5">12</text>
<text x="0" y="0" transform="translate(460 725.919) scale(0.82 1)" text-anchor="middle" font-size="30.5">13</text>
<text x="0" y="0" transform="translate(423.5 919.919) scale(0.82 1)" text-anchor="middle" font-size="30.5">14</text>
<text x="0" y="0" transform="translate(445 1074.719) scale(0.82 1)" text-anchor="middle" font-size="30.5">15</text>
<text x="0" y="0" transform="translate(498.5 1085.919) scale(0.82 1)" text-anchor="middle" font-size="30.5">16</text>
<text x="0" y="0" transform="translate(438.5 174.419) scale(0.82 1)" text-anchor="middle" font-size="30.5">17</text>
<text x="0" y="0" transform="translate(435.7 239.919) scale(0.82 1)" text-anchor="middle" font-size="30.5">18</text>
<text x="0" y="0" transform="translate(463.2 102.51899999999999) scale(0.82 1)" text-anchor="middle" font-size="30.5">19</text>
<text x="0" y="0" transform="translate(523.8 134.419) scale(0.82 1)" text-anchor="middle" font-size="30.5">20</text>
<text x="0" y="0" transform="translate(713 1286.919) scale(0.82 1)" text-anchor="middle" font-size="30.5">21</text>
<text x="0" y="0" transform="translate(593.2 1233.6190000000001) scale(0.82 1)" text-anchor="middle" font-size="30.5">22</text>
<text x="0" y="0" transform="translate(926.4 1069.519) scale(0.82 1)" text-anchor="middle" font-size="30.5">22</text>
<text x="0" y="0" transform="translate(587.4 1113.419) scale(0.82 1)" text-anchor="middle" font-size="30.5">23</text>
<text x="0" y="0" transform="translate(999.3 1102.919) scale(0.82 1)" text-anchor="middle" font-size="30.5">23</text>
<text x="0" y="0" transform="translate(646.5 1084.919) scale(0.82 1)" text-anchor="middle" font-size="30.5">24</text>
<text x="0" y="0" transform="translate(775.4 1287.919) scale(0.82 1)" text-anchor="middle" font-size="30.5">24</text>
<text x="0" y="0" transform="translate(1004.3 1206.6190000000001) scale(0.82 1)" text-anchor="middle" font-size="30.5">25</text>
<text x="0" y="0" transform="translate(1060 1352.919) scale(0.82 1)" text-anchor="middle" font-size="30.5">26</text>
<text x="0" y="0" transform="translate(907 1179.519) scale(0.82 1)" text-anchor="middle" font-size="30.5">27</text>
<text x="0" y="0" transform="translate(822.9 1335.919) scale(0.82 1)" text-anchor="middle" font-size="30.5">28</text>
<text x="0" y="0" transform="translate(799.4 897.519) scale(0.82 1)" text-anchor="middle" font-size="30.5">29</text>
<text x="0" y="0" transform="translate(729.7 854.919) scale(0.82 1)" text-anchor="middle" font-size="30.5">30</text>
<text x="0" y="0" transform="translate(718 150.919) scale(0.82 1)" text-anchor="middle" font-size="30.5">31</text>
<text x="0" y="0" transform="translate(559.3 225.419) scale(0.82 1)" text-anchor="middle" font-size="30.5">32</text>
<text x="0" y="0" transform="translate(705 222.31900000000002) scale(0.82 1)" text-anchor="middle" font-size="30.5">33</text>
<text x="0" y="0" transform="translate(654 81.619) scale(0.82 1)" text-anchor="middle" font-size="30.5">34</text>
<text x="0" y="0" transform="translate(801 356.919) scale(0.82 1)" text-anchor="middle" font-size="30.5">35</text>
<text x="0" y="0" transform="translate(307.4 737.919) scale(0.82 1)" text-anchor="middle" font-size="30.5">36</text>
<text x="0" y="0" transform="translate(95 852.519) scale(0.82 1)" text-anchor="middle" font-size="30.5">37</text>
<text x="0" y="0" transform="translate(191 772.919) scale(0.82 1)" text-anchor="middle" font-size="30.5">38</text>
<text x="0" y="0" transform="translate(259.6 749.919) scale(0.82 1)" text-anchor="middle" font-size="30.5">39</text>
<text x="0" y="0" transform="translate(107 605.919) scale(0.82 1)" text-anchor="middle" font-size="30.5">40</text>
<text x="0" y="0" transform="translate(141.5 1017.519) scale(0.82 1)" text-anchor="middle" font-size="30.5">41</text>
<text x="0" y="0" transform="translate(328 1242.519) scale(0.82 1)" text-anchor="middle" font-size="30.5">42</text>
<text x="0" y="0" transform="translate(275.2 878.919) scale(0.82 1)" text-anchor="middle" font-size="30.5">43</text>
<text x="0" y="0" transform="translate(359.4 910.519) scale(0.82 1)" text-anchor="middle" font-size="30.5">44</text>
<text x="0" y="0" transform="translate(201.9 911.919) scale(0.82 1)" text-anchor="middle" font-size="30.5">45</text>
<text x="0" y="0" transform="translate(192.6 1035.919) scale(0.82 1)" text-anchor="middle" font-size="30.5">45</text>
<text x="0" y="0" transform="translate(73 1078.919) scale(0.82 1)" text-anchor="middle" font-size="30.5">45</text>
<text x="0" y="0" transform="translate(240 1288.919) scale(0.82 1)" text-anchor="middle" font-size="30.5">45</text>
<text x="0" y="0" transform="translate(111 1359.419) scale(0.82 1)" text-anchor="middle" font-size="30.5">46</text>
<text x="0" y="0" transform="translate(169.3 1330.519) scale(0.82 1)" text-anchor="middle" font-size="30.5">47</text>
<text x="0" y="0" transform="translate(93 270.419) scale(0.82 1)" text-anchor="middle" font-size="30.5">48</text>
<text x="0" y="0" transform="translate(157 269.919) scale(0.82 1)" text-anchor="middle" font-size="30.5">49</text>
<text x="0" y="0" transform="translate(278 186.919) scale(0.82 1)" text-anchor="middle" font-size="30.5">50</text>
<text x="0" y="0" transform="translate(928.5 1458.919) scale(0.82 1)" text-anchor="middle" font-size="30.5">5695</text>
</svg></body></html>
